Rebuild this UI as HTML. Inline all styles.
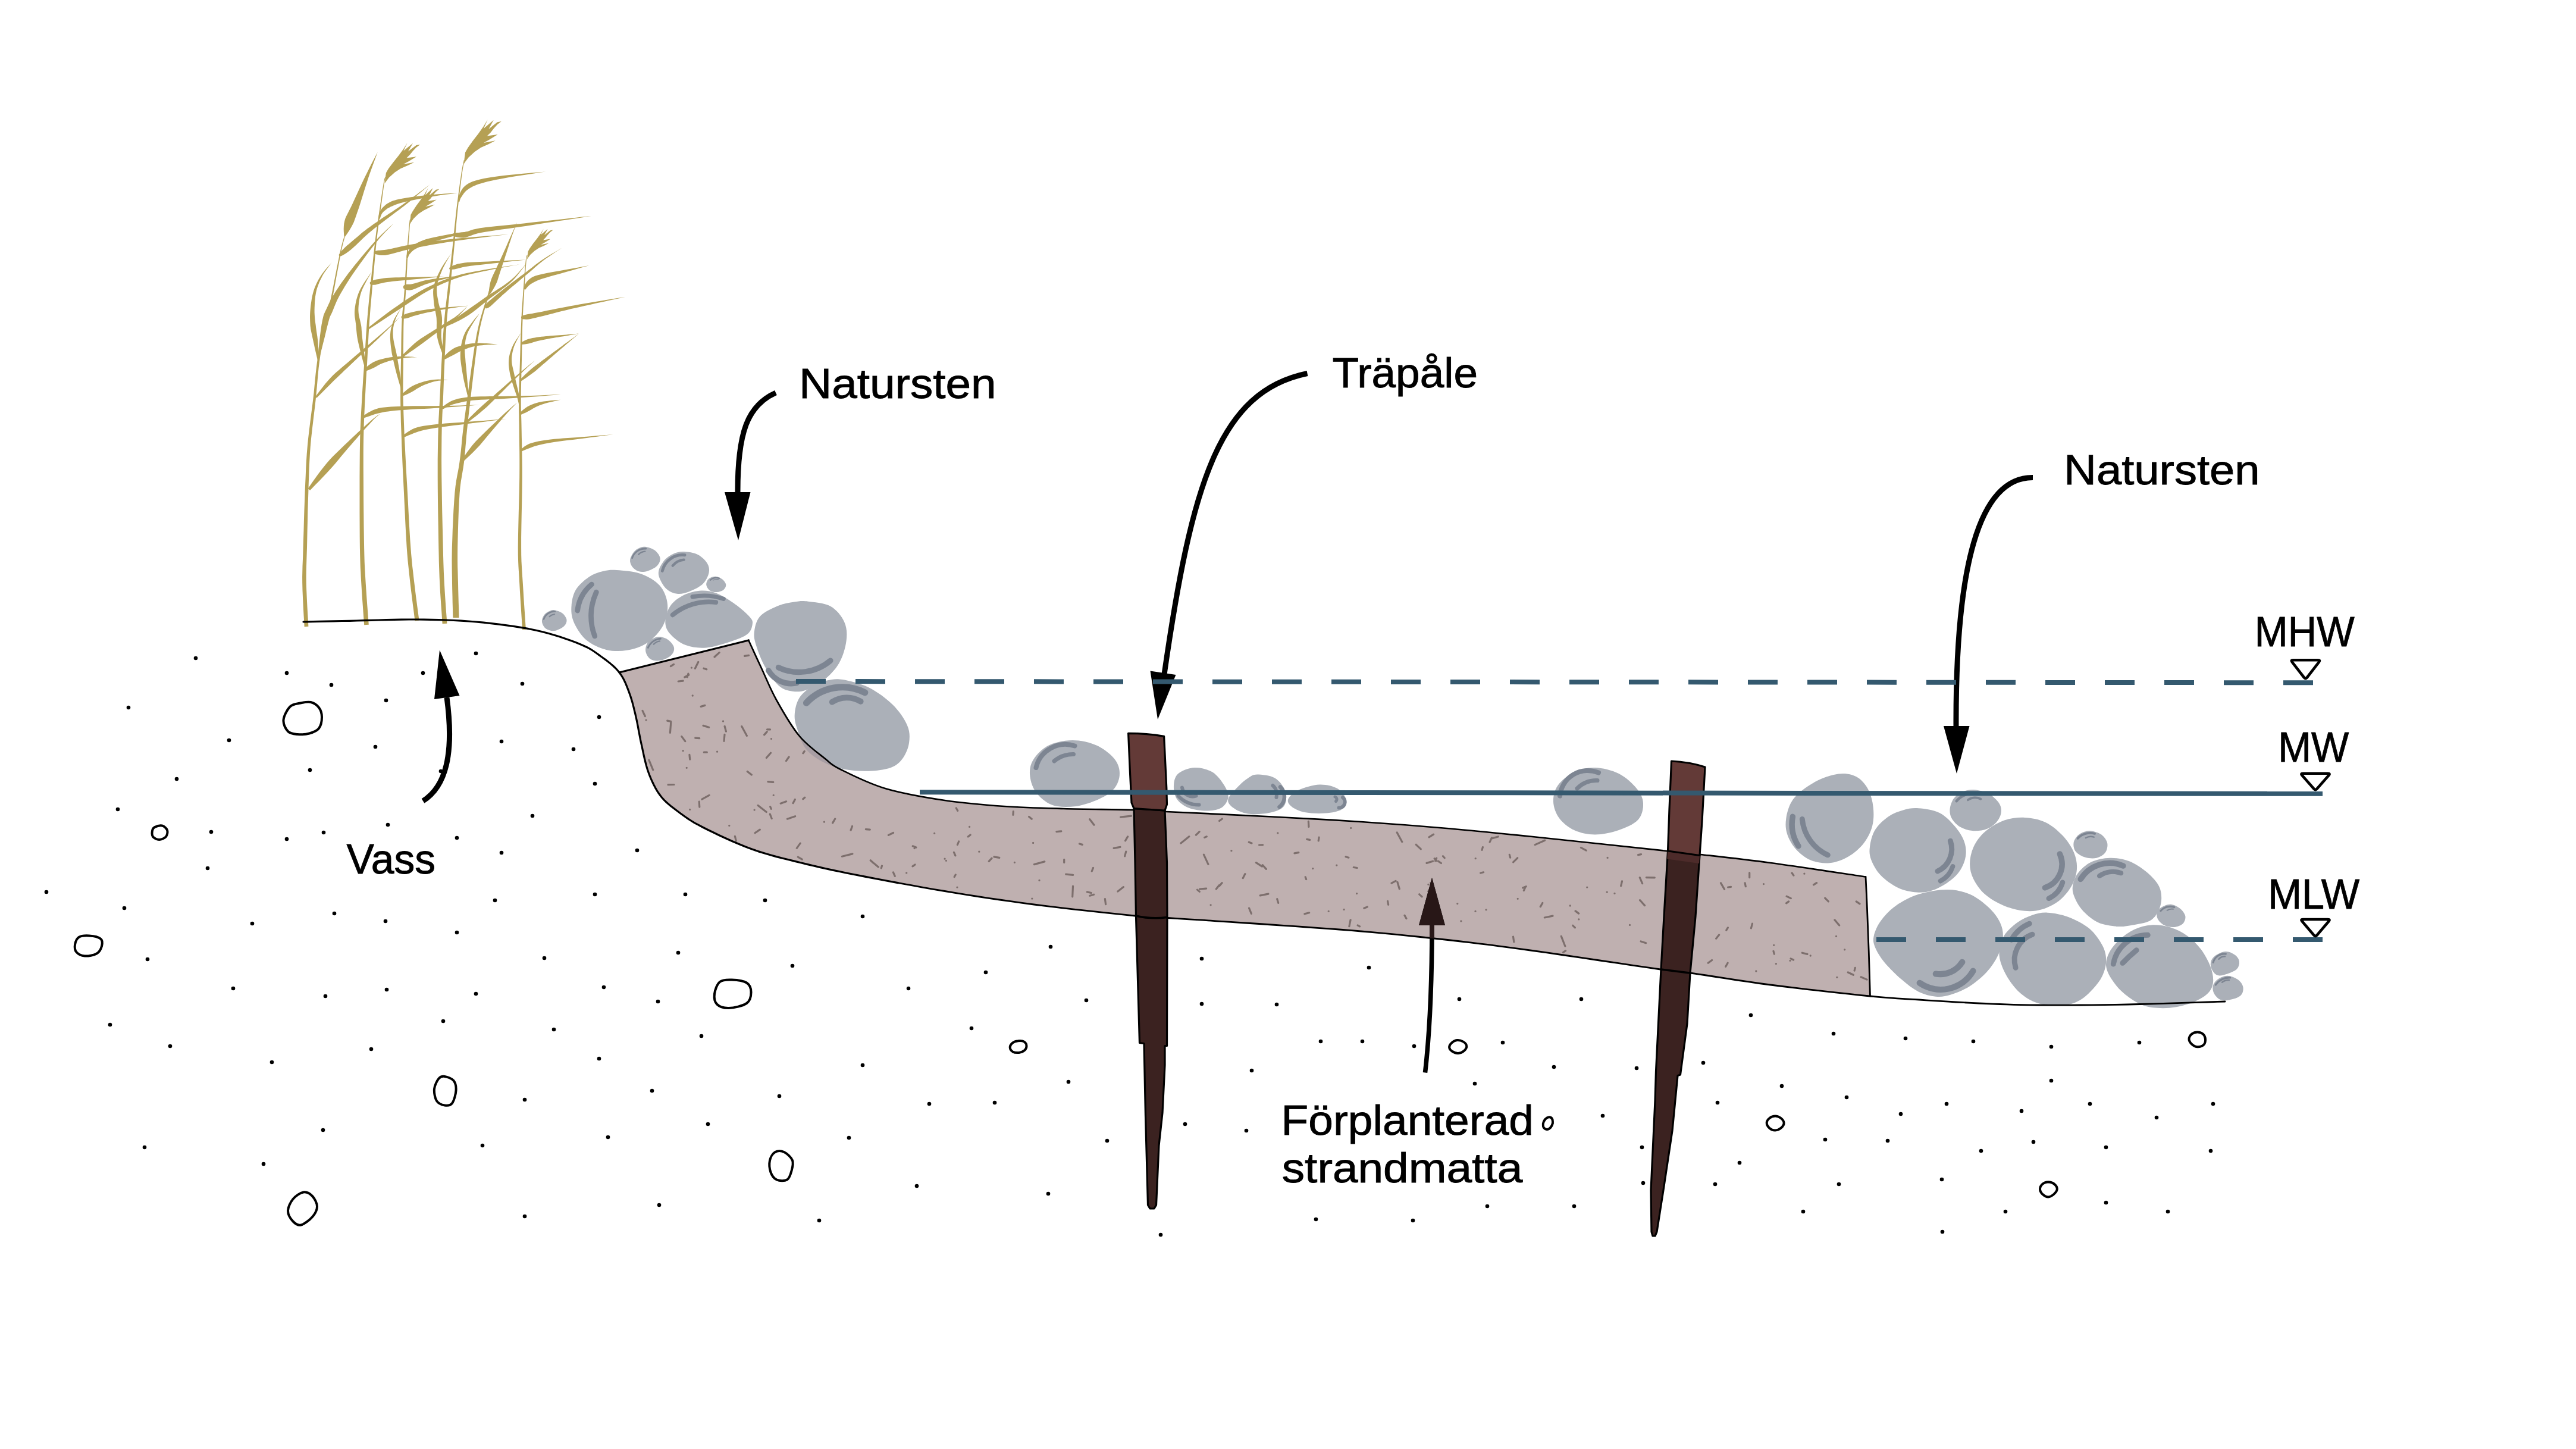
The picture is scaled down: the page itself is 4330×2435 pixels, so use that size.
<!DOCTYPE html><html><head><meta charset="utf-8"><title>Strandmatta</title>
<style>html,body{margin:0;padding:0;background:#fff;overflow:hidden}svg{display:block}text{font-family:"Liberation Sans",sans-serif;fill:#000;stroke:#000;stroke-width:0.9px}</style></head><body>
<svg width="4330" height="2435" viewBox="0 0 4330 2435">
<rect width="4330" height="2435" fill="#fff"/>
<g fill="#b5a054">
<path d="M518.4,1052.8L518,1044.7L517.3,1033.4L516.5,1020.1L515.8,1005.9L515.2,992.1L514.8,979.9L514.7,969.6L514.8,960.3L515,951.3L515.3,942L515.6,931.8L516,920.1L516.3,906.4L516.6,891.3L517,875.2L517.3,858.9L517.8,843L518.3,828.1L518.7,814.3L519.2,801.1L519.6,788.3L520.2,775.7L520.9,763.1L521.8,750.2L523,737L524.5,723.4L526.1,709.9L527.7,696.5L529.3,683.5L530.7,671.2L531.8,659.8L532.8,649L533.7,638.7L534.6,628.6L535.6,618.5L536.9,608.3L538.4,597.5L540.1,586.3L542,575.2L543.9,564.4L545.7,554.3L547.5,545.3L549.1,538.2L550.6,532.8L552.1,528.1L553.6,523.1L555.3,516.8L557.3,508.3L559.7,496.6L562.4,482.2L565.2,466.6L568.1,451.2L570.7,437.2L572.8,426.2L574.5,418.1L576,411.8L577.2,407.1L578.2,403.4L579,400.6L579.6,398.2L578.4,397.8L577.7,400.2L576.9,403.1L575.8,406.7L574.5,411.5L573,417.7L571.2,425.8L568.9,436.9L566.1,450.8L563.1,466.2L560.1,481.8L557.2,496.1L554.7,507.7L552.7,516.1L550.9,522.3L549.3,527.3L547.8,532L546.2,537.5L544.5,544.7L542.6,553.7L540.6,563.8L538.6,574.6L536.6,585.7L534.8,596.9L533.1,607.7L531.8,618.1L530.6,628.2L529.6,638.3L528.6,648.6L527.6,659.4L526.3,670.8L524.8,683L523.1,695.9L521.4,709.3L519.7,722.9L518.1,736.5L516.8,749.8L515.7,762.7L514.9,775.4L514.2,788.1L513.7,800.9L513.1,814.1L512.5,827.9L512,842.8L511.4,858.7L510.9,875L510.5,891.1L510,906.3L509.6,919.9L509.3,931.6L508.9,941.8L508.5,951.1L508.3,960.2L508.1,969.6L508.2,980.1L508.5,992.4L509.1,1006.2L509.8,1020.4L510.5,1033.8L511.2,1045.1L511.6,1053.2Z"/>
<path d="M619.8,1049.7L619.2,1042L618.4,1031.2L617.4,1018.5L616.4,1004.9L615.5,991.7L614.7,979.8L614.1,969.9L613.6,961.2L613.1,952.8L612.7,943.8L612.4,933.1L612.1,919.9L611.8,903.2L611.5,883.5L611.3,862.1L611.1,840.5L611,820L610.9,802L610.8,786.6L610.8,773L610.8,760.4L610.9,748.3L611.1,736.3L611.4,723.7L611.8,710.2L612.4,696.1L613,682L613.7,668.5L614.4,656L614.9,645.1L615.4,636.6L615.8,630.1L616.1,624.7L616.5,619.4L616.9,613.4L617.3,605.7L617.8,596.4L618.4,586L618.9,574.9L619.5,563.4L620.2,551.7L621,540.2L621.9,528.5L622.8,516.5L623.9,504.4L625,492.3L626,480.3L627.1,468.7L628.1,457.1L629.2,445.4L630.2,433.9L631.2,422.8L632.2,412.5L633.2,403.1L634.1,395.2L634.9,388.7L635.6,382.8L636.4,377.1L637.3,370.9L638.3,363.7L639.4,354.9L640.8,344.9L642.2,334.4L643.6,324.2L644.8,315.4L645.8,308.6L646.6,304.2L647.1,301.4L647.5,300L647.8,299.3L648.1,298.9L648.3,298.2L647.3,297.8L647.1,298.4L646.8,298.8L646.5,299.6L646,301.2L645.4,303.9L644.6,308.4L643.5,315.2L642.1,324L640.6,334.1L639.1,344.6L637.6,354.7L636.3,363.5L635.3,370.6L634.3,376.8L633.5,382.5L632.6,388.4L631.8,395L630.8,402.9L629.7,412.2L628.6,422.5L627.4,433.6L626.3,445.1L625.1,456.8L623.9,468.3L622.7,480L621.5,491.9L620.3,504.1L619.1,516.2L618,528.2L617,539.8L616.1,551.4L615.3,563.1L614.6,574.7L613.9,585.8L613.3,596.1L612.7,605.5L612.1,613.1L611.7,619.1L611.3,624.3L610.9,629.8L610.4,636.3L609.9,644.9L609.2,655.7L608.5,668.2L607.7,681.7L606.9,695.8L606.2,709.9L605.6,723.5L605.2,736.2L605,748.2L604.8,760.3L604.7,772.9L604.6,786.6L604.5,802L604.5,820.1L604.5,840.6L604.5,862.2L604.6,883.5L604.7,903.3L604.9,920.1L605.2,933.3L605.5,944.1L605.8,953.2L606.3,961.6L606.7,970.3L607.3,980.2L608,992.1L608.9,1005.5L609.9,1019L610.8,1031.8L611.6,1042.6L612.2,1050.3Z"/>
<path d="M704.5,1042.5L703.6,1035.7L702.3,1026.1L700.8,1014.8L699.2,1002.7L697.7,990.6L696.4,979.6L695.2,969.8L694.2,960.6L693.1,951.4L692.2,941.9L691.2,931.5L690.3,919.8L689.3,906.2L688.4,891.2L687.5,875.3L686.6,859.1L685.8,843.2L685,828.3L684.2,814.5L683.4,801.2L682.7,788.2L682,775.4L681.3,762.6L680.7,749.7L680,736.4L679.4,722.9L678.9,709.5L678.4,696.2L678,683.3L677.7,671L677.5,659.3L677.5,648.2L677.6,637.5L677.7,627L677.9,616.4L678,605.6L678,594.5L678,583L678.1,571.6L678.2,560.4L678.3,549.8L678.6,540.1L679,531.6L679.5,524.3L680.1,517.5L680.7,510.7L681.3,503.3L681.9,494.8L682.5,484.9L683.1,473.9L683.7,462.4L684.3,450.7L684.8,439.5L685.4,429.1L686.1,419.1L686.7,409L687.4,399.3L688.1,390.4L688.6,382.7L689.1,376.8L689.5,372.8L689.7,370.6L689.9,369.6L690,369.6L690.2,369.4L690.3,369L689.3,368.6L689.2,368.9L689.1,368.8L688.9,369.3L688.6,370.4L688.3,372.7L687.9,376.6L687.3,382.6L686.7,390.3L685.9,399.2L685.1,408.9L684.3,418.9L683.6,428.9L682.8,439.3L682.1,450.6L681.4,462.2L680.7,473.7L680,484.7L679.3,494.6L678.6,503.1L677.9,510.4L677.2,517.2L676.5,524L675.9,531.4L675.4,539.9L675,549.7L674.7,560.3L674.5,571.5L674.4,583L674.2,594.4L674,605.6L673.8,616.3L673.6,626.9L673.4,637.4L673.2,648.2L673.1,659.3L673.1,671L673.3,683.4L673.6,696.3L673.9,709.7L674.4,723.1L674.9,736.6L675.3,749.9L675.9,762.9L676.4,775.7L677,788.5L677.7,801.5L678.3,814.8L679,828.7L679.7,843.5L680.5,859.4L681.2,875.6L682,891.5L682.9,906.6L683.7,920.2L684.6,932.1L685.5,942.5L686.5,952.1L687.5,961.3L688.5,970.6L689.6,980.4L690.9,991.5L692.4,1003.5L693.9,1015.7L695.4,1027L696.6,1036.6L697.5,1043.5Z"/>
<path d="M751.4,1047.7L750.9,1040.2L750.1,1029.8L749.2,1017.5L748.3,1004.3L747.5,991.4L746.8,979.8L746.3,970L745.9,961.4L745.6,953L745.3,943.9L745,933.2L744.7,919.9L744.3,903.2L743.8,883.4L743.3,862.1L742.9,840.5L742.6,820L742.3,802L742.2,786.3L742.1,772L742.2,758.7L742.3,746.4L742.4,734.8L742.6,723.7L742.8,713.6L743.2,704.8L743.5,696.6L743.9,688.7L744.4,680.4L744.8,671.1L745.2,661L745.6,650.3L746,639.2L746.4,628L746.9,616.8L747.4,605.7L747.9,594.7L748.4,583.6L748.9,572.5L749.5,561.5L750.2,550.7L750.9,540.2L751.8,530.1L752.7,520.5L753.7,511L754.7,501.6L755.8,491.9L756.8,481.8L757.9,471.3L759,460.4L760.1,449.4L761.2,438.3L762.4,427.2L763.4,416.1L764.5,405.2L765.5,394.1L766.5,383.1L767.4,372.1L768.5,361.2L769.6,350.6L770.8,339.8L772.1,328.6L773.4,317.6L774.7,307.2L775.9,297.8L777,290.1L777.9,284.1L778.7,279.4L779.4,275.8L780,273.1L780.5,271L780.8,269.1L779.8,268.9L779.4,270.7L778.8,272.9L778.2,275.6L777.5,279.2L776.6,283.9L775.6,289.9L774.5,297.6L773.1,306.9L771.7,317.4L770.2,328.4L768.8,339.6L767.4,350.4L766.2,361L765.1,371.8L763.9,382.8L762.8,393.8L761.7,404.9L760.6,415.9L759.3,426.9L758.1,438L756.8,449.1L755.6,460.1L754.4,470.9L753.2,481.4L752,491.5L750.9,501.1L749.7,510.6L748.6,520.1L747.6,529.7L746.7,539.8L745.8,550.4L745,561.2L744.3,572.2L743.7,583.4L743.1,594.5L742.4,605.5L741.8,616.5L741.3,627.8L740.7,639L740.2,650L739.7,660.7L739.2,670.9L738.7,680.1L738.2,688.4L737.8,696.3L737.3,704.5L736.9,713.4L736.6,723.5L736.3,734.7L736.1,746.3L735.9,758.7L735.7,772L735.7,786.3L735.7,802L735.8,820.1L736,840.6L736.3,862.2L736.7,883.6L737,903.3L737.3,920.1L737.6,933.4L737.8,944.1L738.1,953.2L738.4,961.7L738.7,970.4L739.2,980.2L739.8,991.9L740.6,1004.8L741.5,1018L742.4,1030.3L743.1,1040.8L743.6,1048.3Z"/>
<path d="M771.6,1037.9L771.4,1031.6L771.2,1022.9L770.8,1012.6L770.5,1001.5L770.2,990.3L770,979.9L769.7,970.4L769.5,961.2L769.2,952L769.1,942.4L769.1,931.9L769.2,920.1L769.5,906.3L769.9,890.5L770.4,874L771,857.5L771.8,842.1L772.6,828.8L773.6,818L774.8,808.7L776.2,800.5L777.5,792.7L778.8,784.9L780,776.5L780.9,767.7L781.8,758.9L782.5,750.1L783.3,741.4L784,732.7L784.9,724L785.8,715.2L786.7,706.4L787.7,697.7L788.7,688.9L789.8,680.1L790.8,671.3L791.8,662.5L792.8,653.6L793.9,644.7L794.9,635.9L795.9,627.3L797,619L797.9,611L798.9,603.1L799.9,595.5L800.8,588.1L801.8,581L802.8,574.3L803.8,568.1L804.7,562.6L805.6,557.3L806.6,552.1L807.8,546.5L809.2,540.4L811.1,533.1L813.3,524.8L815.8,516.2L818.1,507.9L820.3,500.6L821.9,495L823,491.2L823.7,488.7L824.1,487.3L824.4,486.5L824.6,485.9L824.8,485.2L823.2,484.8L823,485.4L822.8,485.9L822.5,486.8L822.1,488.2L821.3,490.7L820.1,494.4L818.4,500L816.1,507.3L813.5,515.5L810.9,524.1L808.4,532.3L806.4,539.6L804.8,545.9L803.5,551.4L802.4,556.7L801.3,562L800.3,567.6L799.2,573.7L798.1,580.5L796.9,587.5L795.8,594.9L794.7,602.6L793.6,610.4L792.4,618.4L791.3,626.7L790.1,635.2L788.8,644L787.6,652.9L786.4,661.8L785.2,670.7L784,679.4L782.9,688.2L781.7,696.9L780.5,705.7L779.4,714.5L778.3,723.2L777.3,732L776.4,740.8L775.6,749.5L774.7,758.2L773.7,766.9L772.6,775.5L771.4,783.7L770,791.4L768.5,799.1L767,807.5L765.6,817L764.4,828.2L763.4,841.6L762.4,857.1L761.6,873.6L760.8,890.2L760.3,906L759.8,919.9L759.6,931.8L759.5,942.4L759.6,952.2L759.7,961.4L759.9,970.6L760,980.1L760.2,990.6L760.5,1001.8L760.7,1012.9L761,1023.2L761.2,1031.9L761.4,1038.1Z"/>
<path d="M883.9,1057.8L883.3,1049.1L882.5,1036.9L881.5,1022.6L880.5,1007.4L879.6,992.7L878.8,979.8L878.1,969.5L877.5,960.6L877,952.3L876.5,943.5L876.2,933.1L876.1,920L876.1,903.3L876.4,883.5L876.8,862.2L877.3,840.6L877.6,820.1L877.8,802L877.8,786.3L877.6,772L877.4,758.7L877.2,746.3L876.9,734.7L876.7,723.6L876.5,713.5L876.3,704.6L876,696.4L875.8,688.5L875.7,680.2L875.7,671L875.7,660.9L875.9,650.2L876.2,639.2L876.4,627.9L876.7,616.7L877,605.6L877.2,594.5L877.4,583L877.6,571.6L877.9,560.4L878.1,549.8L878.4,540L878.8,531.4L879.2,523.7L879.5,516.6L880,509.7L880.4,502.5L880.9,494.8L881.4,485.9L882.1,476.3L882.7,466.4L883.3,457L883.9,448.6L884.4,442.1L884.9,437.5L885.3,434.3L885.7,432.3L886,431.1L886.3,430.1L886.5,429.1L885.5,428.9L885.2,429.8L884.9,430.7L884.6,432.1L884.2,434.2L883.7,437.3L883.2,441.9L882.6,448.5L881.9,456.8L881.2,466.3L880.4,476.2L879.7,485.8L879.1,494.6L878.5,502.4L878,509.5L877.5,516.5L877,523.6L876.6,531.3L876.2,540L875.8,549.7L875.4,560.3L875,571.5L874.7,583L874.4,594.4L874,605.6L873.7,616.6L873.3,627.8L872.9,639.1L872.6,650.1L872.3,660.8L872.1,671L872.1,680.2L872.1,688.6L872.3,696.5L872.4,704.7L872.6,713.5L872.7,723.6L872.8,734.7L873,746.4L873.2,758.7L873.3,772L873.3,786.3L873.2,802L872.9,820L872.4,840.5L871.8,862.1L871.3,883.4L870.9,903.2L870.7,920L870.8,933.2L871.1,943.7L871.5,952.7L872,961L872.6,969.8L873.2,980.2L873.9,993L874.8,1007.7L875.8,1022.9L876.7,1037.3L877.5,1049.5L878.1,1058.2Z"/>
<path d="M779.7,275.6L780.7,265.9L782,256.3L786.2,248.7L794.5,237L804.2,224.5L812.5,212.8L819.7,201L813,215.9L829.7,201.7L821.4,216.9L829,210.7L836,205.2L842.8,204L836,209.3L829.7,216.2L824.9,222.4L818.7,228.6L836.6,226L822,234.9L813,240L832.8,236.2L820.7,242.4L808.3,248L798,254.9L787.6,264.5L782,272Z"/>
<path d="M646.5,308.5L647.6,299.5L648.9,290.6L652.9,283.6L660.8,272.9L670,261.4L677.9,250.7L684.7,239.9L678.3,253.6L694,240.7L686,254.6L693.2,249L699.8,244L706.1,243L699.7,247.8L693.8,254.1L689.2,259.8L683.4,265.5L700,263.3L686.3,271.4L677.9,276L696.3,272.7L685,278.3L673.4,283.3L663.8,289.6L654,298.3L648.7,305.2Z"/>
<path d="M689,376.7L689.6,368.9L690.4,361.1L693.7,354.9L700.1,345.3L707.7,335L714.1,325.4L719.7,315.7L714.6,327.9L727.7,316.1L721.4,328.5L727.4,323.4L732.9,318.8L738.3,317.7L733,322.1L728,327.8L724.3,332.9L719.4,338L733.8,335.5L722.2,343L715.1,347.3L731,343.8L721.3,349.1L711.5,353.9L703.3,359.6L695.1,367.6L690.8,373.8Z"/>
<path d="M886,435.7L886.7,429L887.6,422.4L890.5,417.2L896.3,409.1L903,400.5L908.8,392.4L913.8,384.3L909.1,394.6L920.7,384.8L914.9,395.3L920.2,391L925,387.3L929.7,386.4L925,390.1L920.6,394.8L917.3,399.1L913,403.4L925.4,401.6L915.3,407.7L909.1,411.2L922.7,408.6L914.4,412.9L905.8,416.7L898.7,421.5L891.5,428.1L887.6,433.2Z"/>
<path d="M579.9,397.9L581.2,396L583,393.5L585,390.5L587.2,387.2L589.4,383.6L591.4,380.1L593.2,376.6L594.8,373.2L596.1,369.6L597.4,365.9L598.8,361.9L600.3,357.6L602,352.8L603.8,347.5L605.7,341.5L607.8,334.8L610,327.8L612.2,320.4L614.6,313.1L616.9,305.9L619.1,299.1L621.4,292.3L624,285.1L626.6,277.8L629.1,270.9L631.4,264.7L633.3,259.4L634.7,255.5L634.7,255.5L632.8,259.2L630.2,264.2L627.2,270.1L623.8,276.6L620.3,283.5L616.9,290.4L613.6,296.9L610.5,303.4L607.3,310.3L604.1,317.3L600.9,324.3L597.8,331L594.9,337.3L592.3,342.9L589.9,347.9L587.7,352.3L585.7,356.3L583.8,360.1L581.9,363.8L580.3,367.6L579.2,371.5L578.3,375.8L577.9,380.1L577.7,384.4L577.8,388.5L578,392.1L578.2,395.1L578.4,397.4Z"/>
<path d="M571.2,430.9L571.5,430.8L571.6,430.8L571.7,430.8L572.1,430.7L572.8,430.5L573.9,430.1L575.6,429.3L577.7,428.1L580.4,426.5L583.3,424.6L586.4,422.3L589.6,419.8L592.8,417.1L595.8,414.3L598.9,411.4L602.1,408.3L605.3,405.2L608.6,402L612,398.8L615.3,395.7L618.7,392.7L622.2,389.8L625.6,386.9L629.2,384.1L632.8,381.3L636.5,378.4L640.3,375.5L644.3,372.4L648.4,369.2L652.9,365.9L657.5,362.5L662.1,359L666.7,355.6L671,352.4L675.1,349.3L678.8,346.4L682.2,343.7L685.4,341.2L688.6,338.7L691.7,336.1L694.9,333.5L698.2,330.7L702,327.6L706.1,324.1L710.4,320.5L714.6,317L718.4,313.7L721.5,311L723.9,309L723.9,309L721.4,310.9L718.1,313.4L714.1,316.4L709.8,319.7L705.3,323.1L701,326.4L697.1,329.3L693.6,331.8L690.2,334.3L687,336.6L683.7,338.9L680.4,341.3L676.9,343.8L673,346.4L668.8,349.3L664.3,352.3L659.6,355.4L654.8,358.6L650,361.7L645.3,364.8L640.9,367.8L636.8,370.7L632.8,373.4L628.9,376.1L625.1,378.7L621.4,381.4L617.7,384.1L614,386.9L610.3,389.8L606.6,392.8L603.1,395.9L599.5,398.9L596.1,401.8L592.9,404.6L589.7,407.3L586.6,409.9L583.4,412.5L580.4,415.2L577.7,417.9L575.2,420.5L573.2,422.8L571.7,424.7L570.7,426.3L570.1,427.3L569.8,427.9L569.6,428.3L569.6,428.4L569.5,428.6L569.4,428.8Z"/>
<path d="M638.5,367.8L638.9,366.7L639.4,365.3L639.9,363.6L640.6,361.8L641.4,360L642.3,358.5L643.4,357.1L644.6,355.8L646,354.5L647.6,353.2L649.2,351.9L651,350.6L652.9,349.5L654.9,348.4L657,347.3L659.1,346.4L661.3,345.4L663.6,344.5L666.2,343.5L669.1,342.5L672.3,341.5L675.9,340.5L679.9,339.4L684.2,338.4L688.7,337.4L693.4,336.4L698.3,335.4L703.3,334.4L708.5,333.4L714.2,332.4L720,331.4L725.9,330.4L731.7,329.5L737.2,328.6L742.4,327.8L747.2,327.1L752.1,326.5L756.9,325.9L761.3,325.4L765.3,324.9L768.6,324.5L771.1,324.2L771.1,324.2L768.6,324.4L765.2,324.5L761.3,324.7L756.8,324.9L752,325.2L747.1,325.5L742.1,325.9L737,326.3L731.4,326.8L725.5,327.3L719.5,327.9L713.6,328.5L707.9,329.1L702.5,329.8L697.5,330.4L692.5,331.1L687.7,331.7L683,332.5L678.6,333.2L674.4,334L670.6,334.8L667.1,335.6L663.9,336.5L661,337.3L658.3,338.3L655.9,339.5L653.5,340.7L651.2,342.1L649,343.6L647,345.2L645.1,346.9L643.3,348.7L641.8,350.5L640.4,352.4L639.2,354.3L638.2,356.4L637.5,358.6L637,360.8L636.7,362.8L636.5,364.6L636.4,366.1L636.2,367.2Z"/>
<path d="M536.5,608.6L536.3,605.3L536.1,600.9L535.8,595.6L535.5,589.8L535.1,584L534.7,578.4L534.3,573.5L533.8,569.2L533.3,565.1L532.7,561.2L532.1,557.5L531.6,553.8L531.1,550.3L530.7,546.6L530.2,543L529.7,539.4L529.3,535.9L529,532.3L528.8,528.7L528.6,525L528.6,521.1L528.7,516.9L528.9,512.4L529.1,507.8L529.5,503.2L530,498.6L530.7,494.2L531.5,490L532.5,486L533.7,482.2L535.1,478.4L536.6,474.6L538.2,471L540,467.4L541.8,463.8L544,460.1L546.5,456.2L549.2,452.4L552,448.7L554.5,445.3L556.6,442.5L558.1,440.4L558.1,440.4L556.5,442.4L554.1,445L551.3,448.2L548.3,451.6L545.2,455.3L542.4,459L539.9,462.6L537.7,466.1L535.6,469.6L533.6,473.3L531.8,477L530.1,480.8L528.5,484.7L527.1,488.9L525.9,493.2L524.8,497.8L523.9,502.5L523.2,507.2L522.5,511.9L522,516.4L521.6,520.7L521.3,524.8L521.1,528.8L521,532.6L521.1,536.4L521.2,540.1L521.4,543.8L521.6,547.6L522.1,551.5L522.7,555.3L523.5,559L524.3,562.7L525.1,566.6L526,570.5L526.9,574.7L528,579.4L529.1,584.9L530.4,590.6L531.7,596.2L532.9,601.3L533.9,605.7L534.7,608.8Z"/>
<path d="M537.6,598.3L539.1,592.8L541.1,585L543.4,575.8L545.9,565.9L548.2,556.3L550.3,547.7L552,541.2L553.2,536.7L554.2,533.6L555,531.5L555.7,529.9L556.6,528.2L557.7,526.1L559,523.1L560.3,519.8L561.6,516.4L563,513L564.5,509.4L566.2,505.6L568.2,501.5L570.5,497L573.2,492.2L576.3,487L579.5,481.5L583.1,475.8L586.9,469.8L591,463.6L595.3,457.2L600.1,450.4L605.4,442.9L611.1,435.2L616.9,427.3L622.6,419.8L628,412.7L633.1,406.4L637.9,400.6L642.7,395.2L647.5,390.1L651.9,385.5L655.9,381.4L659.2,378L661.7,375.4L661.7,375.4L659.1,377.8L655.5,381L651.3,384.8L646.6,389.2L641.5,394L636.3,399.2L631.1,404.7L625.7,410.7L619.8,417.5L613.6,424.8L607.3,432.2L601.2,439.7L595.4,446.8L590.2,453.5L585.4,459.6L580.9,465.7L576.7,471.5L572.7,477.1L569.1,482.4L565.7,487.5L562.6,492.4L559.8,496.9L557.4,501.1L555.3,505.1L553.5,508.8L551.9,512.2L550.4,515.6L548.9,518.7L547.7,521.3L546.7,523.3L545.8,525.2L544.8,527.5L543.8,530.3L542.9,533.9L541.8,538.8L540.5,545.8L539.2,554.6L537.9,564.4L536.8,574.6L535.8,584L535,592L534.4,597.7Z"/>
<path d="M622.1,477.5L622.3,477.6L622.3,477.6L622.3,477.7L622.6,477.8L623.2,478.2L624.4,478.5L626.2,478.8L628.7,478.8L631.7,478.4L634.9,477.6L638.5,476.6L642.4,475.7L646.5,474.8L650.9,474L655.5,473.4L660.3,472.8L665.5,472.3L671,471.8L676.9,471.2L683.2,470.7L689.9,470L697.7,469.3L706.7,468.4L716.3,467.5L725.9,466.6L734.7,465.7L742.1,465L747.5,464.5L747.5,464.5L742.1,464.7L734.6,464.8L725.8,465L716.2,465.2L706.5,465.4L697.5,465.7L689.7,465.9L683,466L676.7,466.1L670.7,466.2L665.2,466.3L659.9,466.5L654.8,466.7L650,467.1L645.4,467.6L641,468.2L636.8,468.9L633.1,469.6L629.7,470.3L627,471.2L624.8,472.3L623.3,473.2L622.4,474L621.9,474.6L621.8,474.8L621.7,474.9L621.7,474.9L621.6,475.1Z"/>
<path d="M628.6,425.8L628.9,426L629.1,426.1L629.4,426.3L629.8,426.5L630.4,426.7L631.4,427L632.6,427.4L634.1,427.8L635.9,428.2L638,428.7L640.6,429L643.6,429.1L647.2,428.9L651.2,428.2L655.7,427.3L660.7,426L666.1,424.5L671.9,422.9L677.9,421.3L684.1,419.7L690.5,418.2L697.2,416.8L704.4,415.3L711.9,413.9L719.5,412.5L727.3,411.1L735,409.7L742.6,408.5L750,407.3L757.3,406.2L764.5,405.1L771.9,404.1L779.3,403.1L786.9,402.1L794.8,401L803.5,399.9L813.2,398.7L823.2,397.5L833,396.3L842,395.3L849.5,394.4L855,393.7L855,393.7L849.5,394.2L841.9,394.7L832.9,395.4L823.1,396.2L813,396.9L803.3,397.7L794.5,398.5L786.6,399.2L778.9,399.8L771.5,400.5L764.1,401.2L756.7,402L749.4,402.8L741.9,403.7L734.3,404.6L726.5,405.6L718.6,406.7L710.8,407.8L703.3,408.9L696,410.1L689.1,411.2L682.5,412.5L676.1,413.8L669.9,415.2L664.1,416.6L658.8,417.8L653.9,418.8L649.7,419.5L646.2,419.9L643.2,420.3L640.6,420.5L638.3,420.7L636.3,420.8L634.4,421.1L632.6,421.4L631.2,421.9L630.3,422.2L629.7,422.5L629.3,422.8L629,422.9L628.8,423.1L628.5,423.3Z"/>
<path d="M685.8,433.4L686,432.6L686.3,431.7L686.6,430.7L687,429.6L687.5,428.5L688.1,427.5L689,426.4L690.1,425.2L691.2,423.9L692.5,422.6L693.9,421.4L695.5,420.1L697.4,418.9L699.5,417.7L702,416.5L704.7,415.3L707.6,414.1L710.7,412.8L714.3,411.5L718.1,410L722.4,408.4L727.3,406.8L732.7,405L738.6,403.3L744.7,401.5L751.1,399.8L757.4,398.1L763.6,396.4L770.2,394.8L777.3,393.2L784.7,391.6L791.8,390L798.3,388.7L803.8,387.5L807.8,386.6L807.8,386.6L803.7,387.2L798.2,387.8L791.6,388.6L784.3,389.5L776.8,390.5L769.5,391.5L762.8,392.6L756.4,393.6L749.9,394.8L743.4,396L737.1,397.2L731,398.5L725.3,399.8L720.1,401L715.5,402.3L711.3,403.7L707.6,405.2L704.2,406.7L701.2,408.3L698.4,410L695.8,411.7L693.4,413.5L691.4,415.4L689.7,417.2L688.3,419.1L687.2,420.8L686.2,422.4L685.3,424L684.6,425.6L684,427.2L683.7,428.7L683.5,430.1L683.5,431.2L683.4,432.1L683.3,432.8Z"/>
<path d="M760.5,395.8L760.7,396L761,396.1L761.3,396.3L761.7,396.5L762.3,396.7L763.2,397.1L764.5,397.4L766,397.9L767.9,398.4L770.2,398.9L772.8,399.3L775.8,399.5L779,399.4L782.3,398.9L785.6,398.1L788.7,397.1L791.6,396L794.7,394.8L798.3,393.5L802.8,392.3L808.5,391L815.6,389.7L824.1,388.4L833.6,387L843.6,385.6L853.8,384.2L864,382.7L873.7,381.3L883.1,379.9L892.5,378.5L902,377L911.4,375.6L920.8,374.1L930,372.7L939.1,371.3L948.5,369.9L958.4,368.4L968.4,366.9L977.9,365.5L986.6,364.2L993.8,363.1L999.2,362.3L999.2,362.3L993.8,362.9L986.5,363.7L977.8,364.6L968.2,365.7L958.2,366.8L948.2,367.9L938.8,368.9L929.6,369.9L920.4,371L911,372L901.5,373.1L892,374.1L882.5,375.2L873,376.2L863.3,377.3L853.1,378.3L842.8,379.3L832.7,380.3L823.2,381.3L814.6,382.3L807.1,383.3L801,384.4L796,385.6L792,386.8L788.6,387.9L785.8,388.9L783.3,389.6L780.8,390.1L778.1,390.4L775.6,390.6L773.1,390.8L770.7,390.9L768.5,391.1L766.4,391.3L764.6,391.6L763.2,392L762.3,392.3L761.7,392.6L761.3,392.8L761,392.9L760.7,393.1L760.5,393.2Z"/>
<path d="M772.3,338.9L772.5,338.2L772.7,337.3L772.9,336.4L773.3,335.4L773.7,334.3L774.3,333.1L775.1,331.7L776.2,330.1L777.4,328.2L778.7,326.3L780.2,324.3L781.7,322.4L783.4,320.7L785.3,319.2L787.4,317.8L789.6,316.3L791.9,315L794.4,313.6L797.4,312.2L800.8,310.8L804.9,309.3L809.5,307.9L814.5,306.5L820,305.1L826,303.7L832.6,302.3L839.7,300.9L847.5,299.4L856.7,297.8L867.6,296L879.4,294.2L891.2,292.4L902.1,290.7L911.3,289.3L917.9,288.3L917.9,288.3L911.3,288.9L902,289.7L891,290.7L879.1,291.7L867.2,292.9L856.2,294L846.8,295L838.9,296L831.7,297L825,298L818.8,299L813.1,300.1L807.8,301.2L802.8,302.4L798.4,303.7L794.5,305L791,306.4L788,308L785.2,309.7L782.8,311.5L780.5,313.5L778.3,315.8L776.4,318.4L774.9,320.9L773.7,323.4L772.7,325.8L771.9,328L771.2,329.8L770.6,331.6L770.2,333.2L770,334.7L769.9,335.9L769.9,337L769.9,337.8L769.9,338.4Z"/>
<path d="M755.5,452.5L755.6,452.5L755.6,452.5L755.7,452.5L755.9,452.6L756.4,452.8L757.4,452.9L759.1,453L761.4,452.8L764.1,452.4L767.2,451.8L770.5,451L774.1,450L777.9,449L782.1,448.2L786.5,447.4L791.2,446.8L796.2,446.2L801.7,445.6L807.6,445L814,444.3L821.1,443.5L829.5,442.6L839.4,441.5L850.2,440.3L860.9,439.1L870.8,438L879.2,437.1L885.2,436.5L885.2,436.5L879.1,436.7L870.7,437.1L860.8,437.6L850,438L839.2,438.5L829.2,439L820.7,439.4L813.7,439.7L807.2,440L801.3,440.2L795.8,440.4L790.6,440.7L785.7,441.1L781.1,441.5L776.6,442.2L772.4,443L768.5,443.8L765.1,444.9L762.2,446.1L759.8,447.2L757.9,448.3L756.5,449.1L755.7,449.7L755.2,450.1L755.1,450.3L755.1,450.3L755.1,450.3L755,450.4Z"/>
<path d="M678,483.9L678.3,484.4L678.8,484.9L679.3,485.3L680,485.7L680.7,486.1L681.6,486.5L682.4,486.8L683.1,487L683.9,487.3L685.1,487.6L686.8,487.8L688.7,487.7L691,487.3L693.5,486.7L696.4,485.7L699.5,484.5L702.8,483.1L706.3,481.5L709.9,480L713.4,478.6L716.9,477.3L720.4,476.2L723.9,475.1L727.6,474L731.3,473L735.1,472L738.8,471L742.5,470L746.5,469L750.7,468L755,466.9L759.2,465.9L762.9,465.1L766.1,464.3L768.5,463.7L768.5,463.7L766.1,464L762.8,464.4L759,464.8L754.7,465.3L750.3,465.8L746,466.4L741.9,466.9L738.1,467.4L734.3,467.9L730.4,468.5L726.5,469.1L722.7,469.7L718.9,470.4L715.1,471.1L711.3,472L707.5,473.1L703.7,474.2L700,475.2L696.7,476.2L693.7,477L691.3,477.5L689.5,477.7L688.1,477.8L687,477.7L686.1,477.7L685.1,477.7L683.8,477.8L682.5,478L681.4,478.3L680.5,478.7L679.8,479.1L679.2,479.6L678.7,480L678.2,480.5L677.9,481.1Z"/>
<path d="M747.1,597.4L746.6,594.5L745.8,590.6L744.8,585.9L743.8,580.8L742.9,575.6L742.2,570.5L741.7,565.8L741.7,561.4L741.9,556.9L742.2,552.3L742.6,547.6L742.9,542.9L743.1,538.2L742.9,533.6L742.4,529.2L741.6,525.2L740.6,521.3L739.5,517.7L738.5,514.2L737.6,510.8L736.8,507.2L736.2,503.6L735.5,499.9L734.9,496.4L734.4,492.8L734.2,489.3L734.1,485.7L734.4,482L735,478.2L735.9,474.1L737.1,470L738.5,465.8L740.1,461.5L741.7,457.4L743.4,453.3L745.3,449.2L747.6,444.7L750,440.3L752.5,436L754.7,432.2L756.6,428.9L758,426.5L758,426.5L756.4,428.8L754.2,431.9L751.7,435.5L748.9,439.6L746,443.8L743.4,448.1L741,452.1L739,456.1L736.9,460.2L735,464.3L733.2,468.5L731.5,472.8L730.2,477L729.1,481.1L728.5,485.2L728.1,489.3L728.1,493.2L728.3,497L728.6,500.8L728.9,504.6L729.3,508.4L729.7,512.2L730.4,516L731.1,519.8L731.9,523.4L732.5,527L733.2,530.7L733.7,534.4L733.9,538.4L734,542.7L733.9,547.2L733.9,552L733.9,556.9L734.2,561.8L734.9,566.6L736,571.6L737.4,576.8L739.1,582L740.9,587L742.5,591.5L743.9,595.2L744.9,598Z"/>
<path d="M614.8,615.8L614.3,611.5L613.6,605.6L612.8,598.5L611.8,590.9L610.9,583.4L610,576.5L609.3,570.8L608.8,566.4L608.4,562.6L608.1,559.3L607.9,556.3L607.7,553.3L607.5,550.1L607,546.6L606.2,542.9L605.4,539.2L604.5,535.6L603.7,532L603,528.5L602.6,524.8L602.4,521L602.5,517L602.8,512.7L603.3,508.4L603.9,503.9L604.8,499.3L606,494.7L607.5,490.1L609.5,485.1L612.2,479.5L615.2,473.7L618.3,468L621.3,462.9L623.8,458.5L625.5,455.4L625.5,455.4L623.5,458.4L620.7,462.5L617.3,467.4L613.6,472.8L610.1,478.3L606.9,483.8L604.3,488.8L602.3,493.5L600.7,498.2L599.3,502.9L598.2,507.5L597.4,512L596.7,516.5L596.2,520.8L596,525.1L596.1,529.2L596.5,533.2L597.1,537L597.6,540.7L598.1,544.2L598.5,547.7L598.7,551L599,554L599.3,557L599.6,560.1L600,563.6L600.6,567.5L601.4,572.1L602.7,577.8L604.3,584.6L606.1,592L608.1,599.4L609.9,606.3L611.5,612.1L612.6,616.2Z"/>
<path d="M676.3,655.2L675.7,650.5L674.7,644.1L673.6,636.5L672.3,628.2L671,619.8L669.6,611.9L668.4,604.9L667.3,598.5L666.1,592.4L664.7,586.6L663.4,581.1L662.3,575.8L661.4,570.8L660.8,566.1L660.5,561.8L660.5,557.8L660.7,554.1L661.1,550.6L661.7,547.2L662.5,543.8L663.4,540.4L664.6,536.9L666.1,533.2L667.9,529.5L669.8,526.1L671.5,522.9L673,520.3L674.1,518.3L674.1,518.3L672.8,520.2L671.1,522.6L669,525.6L666.8,528.9L664.7,532.5L662.7,536.1L661.1,539.6L659.9,543L658.8,546.4L657.8,549.9L657,553.6L656.4,557.5L656,561.7L655.8,566.3L656,571.3L656.4,576.6L657,582.2L657.8,587.9L658.7,593.9L660,600L661.3,606.3L662.9,613.2L664.8,621.1L667,629.4L669.3,637.4L671.4,644.8L673.2,651.1L674.5,655.6Z"/>
<path d="M788.3,665.8L788,662.7L787.5,658.6L787,653.7L786.4,648.2L785.8,642.5L785.3,636.8L784.8,631.3L784.3,625.9L783.8,620.1L783.2,614.3L782.6,608.4L782.2,602.7L781.7,597.4L781.3,592.5L781.2,587.9L781.3,583.5L781.5,579.4L782,575.4L782.5,571.6L783.3,567.9L784.2,564.3L785.4,560.9L786.8,557.6L788.4,554.4L790.2,551.2L792,548.2L793.8,545.3L795.5,542.4L797.2,539.7L799,536.9L800.8,534.2L802.6,531.7L804.2,529.5L805.5,527.6L806.5,526.2L806.5,526.2L805.4,527.5L803.8,529.2L802,531.3L800,533.6L797.9,536.1L795.8,538.7L793.9,541.3L791.9,544L789.8,546.7L787.7,549.6L785.5,552.6L783.5,555.8L781.6,559.2L780,562.9L778.6,566.6L777.4,570.4L776.4,574.4L775.5,578.6L774.8,582.9L774.3,587.6L773.9,592.4L773.8,597.7L774,603.4L774.7,609.3L775.5,615.2L776.4,621.1L777.4,626.8L778.4,632.2L779.4,637.7L780.7,643.4L782,649L783.3,654.3L784.5,659.1L785.5,663.2L786.3,666.2Z"/>
<path d="M874.3,681.5L874.2,680.2L874.1,678.7L874,676.8L873.8,674.5L873.6,671.9L873.2,668.9L872.7,665.4L871.9,661.3L870.9,656.6L869.7,651.4L868.4,646L867.1,640.6L865.9,635.6L864.9,631L864,626.9L863.1,623L862.2,619.3L861.4,615.8L860.7,612.3L860.3,609L860.1,605.6L860.1,602.2L860.3,598.9L860.8,595.6L861.4,592.3L862.1,589L863,585.7L864,582.4L865.4,579L867.1,575.3L869,571.5L871,567.8L872.8,564.5L874.4,561.7L875.5,559.7L875.5,559.7L874.2,561.6L872.3,564.2L870.2,567.4L867.8,570.8L865.5,574.4L863.4,578L861.7,581.5L860.3,584.8L859,588.1L857.9,591.4L856.9,594.8L856.1,598.3L855.5,601.8L855.2,605.5L855,609.2L855.1,612.9L855.4,616.7L855.9,620.4L856.5,624.3L857.2,628.3L858.2,632.6L859.4,637.2L860.9,642.3L862.5,647.6L864.3,652.9L866,657.9L867.6,662.5L868.8,666.3L869.8,669.6L870.5,672.4L871.1,674.9L871.6,677.1L872,678.9L872.3,680.5L872.5,681.7Z"/>
<path d="M532.3,668.7L534.9,666.1L538.5,662.5L542.7,658.3L547.4,653.6L552.2,648.8L556.9,644L561.3,639.6L565.6,635.5L570,631.2L574.5,626.9L579,622.6L583.5,618.4L587.9,614.3L592.1,610.3L596,606.6L599.8,603L603.4,599.6L607,596.2L610.5,592.8L614.1,589.5L617.7,586.1L621.4,582.6L625.2,579L628.9,575.4L632.7,571.9L636.4,568.4L639.9,565L643.3,561.8L646.6,558.6L649.9,555.4L653.1,552.3L656.1,549.3L658.9,546.5L661.5,543.9L663.8,541.6L665.8,539.5L667.5,537.6L668.9,536L670.2,534.5L671.2,533.3L672,532.2L672.7,531.4L672.7,531.4L672,532.2L671.1,533.2L670,534.4L668.7,535.8L667.2,537.3L665.4,539.1L663.3,541.1L660.9,543.3L658.2,545.7L655.2,548.4L652.1,551.2L648.7,554.2L645.3,557.2L641.9,560.2L638.3,563.3L634.6,566.4L630.7,569.7L626.8,573.1L622.9,576.4L618.9,579.8L615,583.1L611.3,586.3L607.5,589.5L603.8,592.7L600.1,595.8L596.3,599.1L592.3,602.5L588.2,606L583.9,609.7L579.3,613.6L574.6,617.6L569.8,621.7L565,625.8L560.4,630L556,634.4L551.7,639.2L547.3,644.3L543,649.7L538.9,654.9L535.3,659.7L532.2,663.8L530,666.7Z"/>
<path d="M521.1,823.9L525,820L530.3,814.6L536.6,808.2L543.4,801.1L550.3,793.7L556.9,786.4L562.9,779.8L568.3,773.2L573.8,766.6L579.3,760L584.8,753.6L590.1,747.4L595.2,741.5L600.1,736L604.6,730.8L609,725.8L613.2,721.1L617.2,716.7L621,712.7L624.4,709L627.4,705.8L630.1,703.1L632.4,700.9L634.5,699.2L636.2,697.7L637.7,696.5L639,695.6L640,694.7L640,694.7L638.9,695.5L637.6,696.3L636,697.3L634.1,698.6L631.8,700.2L629.2,702.2L626.3,704.6L622.9,707.5L619.2,710.8L615,714.5L610.6,718.5L605.9,722.8L601,727.3L596,732.1L590.6,737.1L584.9,742.5L579,748.1L572.9,754L566.7,760L560.5,766.1L554.5,772.3L548.5,779.2L542.3,786.9L536.1,795L530.3,803L525.1,810.3L520.8,816.4L517.6,821Z"/>
<path d="M614.9,623.7L617.2,622.8L620.4,621.6L624,620L627.9,618.2L631.8,616.2L635.4,614.1L638.8,612.3L642.2,610.8L645.6,609.4L649.2,608.2L652.9,607L656.6,606L660.3,605L663.9,604.1L667.7,603.4L671.6,602.7L675.7,602.2L679.6,601.7L683.4,601.3L686.8,601L689.8,600.8L692.3,600.6L694.5,600.5L696.5,600.6L698.1,600.6L699.5,600.7L700.6,600.8L701.6,600.8L701.6,600.8L700.7,600.7L699.5,600.5L698.1,600.2L696.5,599.9L694.6,599.7L692.3,599.5L689.8,599.4L686.8,599.3L683.3,599.2L679.5,599.1L675.5,599.1L671.3,599.1L667.2,599.3L663.2,599.7L659.3,600.1L655.4,600.6L651.5,601.3L647.6,602L643.6,602.9L639.8,603.9L635.9,605.1L631.8,606.7L627.6,608.5L623.7,610.9L620.1,613.5L617,616.1L614.5,618.3L612.6,619.9Z"/>
<path d="M611.9,702.4L614.3,701.6L617.5,700.5L621.1,699.2L625.2,697.7L629.5,696.3L633.9,695.1L638.3,694L642.8,693L647.4,692.1L652.3,691.4L657.6,690.7L663.4,690.1L669.8,689.6L676.9,689L684.8,688.4L693.6,687.8L703.1,687.3L712.9,686.9L722.9,686.4L732.8,685.8L742.3,685.3L752.1,684.6L762.6,683.8L773.3,683L783.5,682.1L792.9,681.4L800.7,680.8L806.5,680.3L806.5,680.3L800.7,680.5L792.8,680.7L783.5,681L773.2,681.4L762.5,681.7L752,681.9L742.2,682.1L732.7,682.3L722.8,682.3L712.8,682.3L702.9,682.3L693.5,682.3L684.6,682.5L676.5,682.7L669.4,682.9L662.9,683.2L657,683.5L651.5,683.9L646.3,684.4L641.3,685.1L636.4,686L631.5,687.5L626.8,689.3L622.5,691.5L618.6,693.6L615.2,695.7L612.4,697.4L610.3,698.6Z"/>
<path d="M619.8,553.5L623.9,550.8L629.3,547.2L635.8,542.9L643,538.2L650.5,533.2L658.1,528.2L665.3,523.5L672.5,518.9L679.9,514L687.4,509L695,503.9L702.5,498.9L710,494.2L717.4,489.9L724.7,485.9L732.1,482.2L739.5,478.7L746.9,475.4L754.3,472.4L761.6,469.5L769,466.9L776.4,464.5L783.8,462.4L791.3,460.6L798.7,458.9L806.2,457.3L813.6,455.8L821.1,454.2L829,452.5L837.5,450.9L846.2,449.2L854.6,447.7L862.2,446.3L868.6,445.2L873.4,444.3L873.4,444.3L868.6,445L862.2,446L854.5,447.1L846.1,448.3L837.3,449.6L828.7,451L820.7,452.3L813.2,453.6L805.7,454.9L798.2,456.2L790.6,457.7L783.1,459.3L775.5,461.1L767.9,463.3L760.3,465.7L752.7,468.3L745.1,471.1L737.5,474.2L729.9,477.5L722.3,481L714.6,484.8L706.9,488.9L699.1,493.4L691.3,498.2L683.6,503.2L676.1,508.3L668.8,513.4L661.8,518.3L654.7,523.3L647.4,528.8L640.2,534.2L633.3,539.5L627.2,544.3L622,548.3L618.2,551.2Z"/>
<path d="M678.2,599.5L680.7,597.8L684.1,595.4L688.1,592.6L692.5,589.6L697,586.4L701.3,583.2L705.3,580.4L709,577.7L712.8,575L716.4,572.2L720.1,569.5L723.8,566.8L727.4,564.1L730.9,561.4L734.4,558.8L737.8,556.2L741.3,553.6L744.6,551.1L747.9,548.6L751,546.3L753.8,544.2L756.3,542.3L758.6,540.6L760.7,539.1L762.8,537.6L764.8,536L766.9,534.2L769.2,532.2L771.7,529.8L774.6,526.9L777.5,523.8L780.4,520.7L783,517.9L785.2,515.5L786.8,513.8L786.8,513.8L785.1,515.4L782.7,517.6L779.8,520.2L776.7,523L773.5,525.8L770.5,528.4L767.8,530.6L765.4,532.4L763.2,533.9L761.1,535.2L759,536.5L756.8,537.9L754.4,539.4L751.7,541.1L748.6,543L745.4,545L742,547.2L738.4,549.4L734.8,551.7L731.1,554L727.4,556.3L723.7,558.7L719.9,561L716,563.5L712.1,565.9L708.1,568.4L704.3,571.2L700.5,574.1L696.6,577.3L692.6,580.9L688.5,584.7L684.7,588.5L681.2,591.9L678.3,594.8L676.2,597Z"/>
<path d="M675,534.7L675.1,534.7L674.5,532.4L675.1,534.8L675.3,534.9L675.9,535.1L677,535.3L678.8,535.4L681.3,535.2L684.2,534.7L687.5,533.7L691.1,532.4L695,531.1L699.2,529.9L703.6,528.7L708.3,527.5L713.4,526.3L718.9,525.1L724.6,523.9L730.5,522.7L736.5,521.5L742.5,520.4L748.9,519.4L756,518.2L763.4,517.2L770.6,516.1L777.2,515.2L782.8,514.4L786.8,513.8L786.8,513.8L782.7,514.1L777.1,514.5L770.5,514.9L763.2,515.4L755.8,516L748.5,516.6L742,517.2L735.9,517.8L729.9,518.5L723.9,519.3L718,520.1L712.4,520.9L707.1,521.8L702.2,522.6L697.6,523.5L693.2,524.5L689.1,525.5L685.3,526.5L682,527.6L679.3,528.8L677.2,530L675.7,531L674.9,531.8L674.5,532.3L674.4,532.4L675.1,534.8L674.5,532.5L674.4,532.6Z"/>
<path d="M747.4,603.9L749.6,602.9L752.6,601.4L756.1,599.6L759.8,597.7L763.6,595.7L767.2,593.7L770.4,591.9L773.6,590.2L777,588.6L780.6,587.2L784.2,585.9L787.9,584.6L791.5,583.6L795.2,582.6L798.8,581.8L802.7,581.1L806.6,580.6L810.5,580.2L814.2,579.8L817.7,579.6L820.9,579.3L823.8,579.2L826.6,579.1L829.2,579.1L831.5,579.2L833.6,579.2L835.3,579.3L836.6,579.3L836.6,579.3L835.3,579.1L833.6,578.8L831.6,578.5L829.3,578.1L826.7,577.8L823.9,577.5L820.9,577.2L817.7,577.1L814.2,576.9L810.4,576.7L806.4,576.6L802.3,576.6L798.2,576.8L794.2,577.1L790.3,577.6L786.3,578.3L782.3,579L778.3,579.9L774.3,581L770.4,582.2L766.5,583.6L762.6,585.4L758.7,587.9L755.1,590.7L751.9,593.6L749,596.4L746.7,598.7L745,600.4Z"/>
<path d="M677.7,665.3L680.3,664.2L683.8,662.7L688,660.7L692.4,658.5L696.7,656L700.7,653.3L704.4,651.2L707.9,649.3L711.5,647.6L715.1,646.1L718.7,644.7L722.3,643.4L725.9,642.2L729.4,641.3L733.1,640.5L737.1,639.8L741.2,639.4L745.2,639L748.8,638.8L751.8,638.5L754,638.3L754,638.3L751.8,638.3L748.8,638.1L745.2,637.9L741.2,637.7L737,637.6L732.8,637.7L728.8,638L725,638.6L721.2,639.3L717.3,640.1L713.4,641.1L709.4,642.2L705.4,643.5L701.4,644.9L697.2,646.8L692.6,649L688.2,651.7L684.2,654.8L680.7,657.8L677.8,660.3L675.7,662.2Z"/>
<path d="M678.9,734.9L681.2,734.1L684.1,732.8L687.5,731.3L691.4,729.7L695.5,728L699.7,726.5L704,725.1L708.5,723.8L713.4,722.6L718.6,721.5L724.2,720.5L730,719.6L736.2,718.6L742.6,717.6L749.3,716.7L756.4,715.7L763.8,714.8L771.4,713.9L779.2,713L787,712L794.8,711.1L803.2,710L812.3,708.9L821.6,707.7L830.7,706.5L839,705.4L846,704.6L851.1,703.9L851.1,703.9L845.9,704.3L838.9,704.8L830.6,705.5L821.5,706.2L812.1,706.9L802.9,707.6L794.5,708.3L786.7,708.8L778.9,709.4L771.1,709.9L763.4,710.4L755.9,711L748.7,711.5L741.9,712.2L735.4,712.8L729.2,713.5L723.2,714.2L717.5,714.9L712,715.7L706.8,716.7L701.8,717.9L697.1,719.5L692.6,721.6L688.4,723.9L684.8,726.2L681.6,728.4L679.1,730.3L677.1,731.6Z"/>
<path d="M744.4,687.6L746.2,686.7L748.5,685.5L751.2,684.1L754.2,682.6L757.5,681.1L760.8,679.8L764.3,678.7L767.8,677.8L771.6,676.9L775.5,675.9L779.7,675L784.3,674.2L789.3,673.5L794.9,672.8L801.3,672.2L808.3,671.8L815.8,671.4L823.6,671L831.6,670.7L839.5,670.4L847.2,669.9L854.7,669.5L862.3,669L870,668.6L877.5,668.1L885,667.6L892.4,667.1L899.6,666.5L907.1,666L914.9,665.3L922.7,664.6L930.2,664L936.9,663.4L942.6,662.8L946.8,662.5L946.8,662.5L942.6,662.7L936.9,663L930.1,663.3L922.6,663.7L914.8,664L907,664.4L899.5,664.7L892.3,664.9L884.9,665.1L877.4,665.3L869.8,665.5L862.2,665.7L854.6,665.8L847.1,666L839.4,666.1L831.5,666.1L823.5,666.1L815.6,666.2L808,666.3L800.9,666.5L794.4,666.8L788.6,667.3L783.4,667.8L778.6,668.5L774.1,669.2L769.9,670.1L766,671.2L762.2,672.4L758.4,674L754.9,675.9L751.6,678L748.7,680L746.2,681.9L744.2,683.5L742.7,684.6Z"/>
<path d="M779.1,775.2L782,772.4L786,768.8L790.6,764.4L795.7,759.5L801,754.1L806.3,748.6L811.1,742.8L816.1,736.8L821.5,730.3L827.2,723.5L833,716.7L838.6,710.2L843.7,704.2L848.3,699L852.3,694.4L856.1,690.3L859.5,686.6L862.7,683.4L865.4,680.6L867.6,678.2L869.4,676.4L869.4,676.4L867.5,678L865,680.1L862,682.6L858.6,685.6L854.7,688.9L850.5,692.6L846,696.8L840.9,701.5L835.2,707L829,712.9L822.6,719.1L816.2,725.3L810.1,731.3L804.5,736.8L799.2,742.2L794.2,748.1L789.6,754.1L785.3,759.8L781.6,765L778.5,769.4L776.2,772.7Z"/>
<path d="M786.6,709.6L790,707L794.5,703.6L799.8,699.4L805.6,694.7L811.7,689.6L817.6,684.4L823,679.2L828.4,673.9L834.1,668.4L839.9,662.6L845.6,656.9L851.2,651.3L856.5,646.1L861.3,641.3L865.7,637L869.9,633.1L873.7,629.3L877.4,625.9L880.7,622.7L883.9,619.7L886.8,617L889.6,614.4L892.1,612.1L894.4,610L896.5,608.2L898.2,606.6L899.7,605.3L900.9,604.2L900.9,604.2L899.7,605.2L898.1,606.5L896.2,607.9L894.1,609.7L891.7,611.6L889,613.8L886.1,616.2L883,618.7L879.7,621.5L876.1,624.5L872.3,627.8L868.2,631.2L863.9,635L859.2,639L854.1,643.5L848.5,648.4L842.6,653.7L836.5,659.1L830.4,664.4L824.5,669.7L818.8,674.6L813.1,679.5L807.3,684.7L801.6,690.1L796.2,695.3L791.4,700.1L787.4,704.1L784.4,707.1Z"/>
<path d="M876.6,640.2L878.9,638.6L882,636.5L885.7,633.9L889.7,631.1L893.9,628L898,624.9L901.8,621.9L905.3,618.8L908.9,615.7L912.5,612.6L916.2,609.4L919.9,606.3L923.5,603.1L927.2,600L930.9,596.8L934.6,593.5L938.4,590.3L942.1,587.1L945.7,583.9L949.3,580.9L952.6,578L956,575.2L959.4,572.3L962.8,569.5L966,566.8L968.8,564.5L971.2,562.5L973,561L973,561L971.1,562.3L968.6,564.1L965.6,566.3L962.2,568.7L958.6,571.3L955,573.9L951.4,576.5L947.8,579.1L944.1,581.9L940.2,584.7L936.3,587.7L932.3,590.6L928.3,593.6L924.4,596.5L920.5,599.3L916.6,602.2L912.7,605.1L908.8,608L905,610.9L901.1,613.7L897.4,616.5L893.7,619.6L889.8,623L885.9,626.4L882.3,629.8L879.1,632.9L876.4,635.6L874.4,637.5Z"/>
<path d="M877,579L879.2,578.8L882.2,578.5L885.6,578L889.3,577.2L893.1,576.2L896.8,575L900.3,574L903.8,573.1L907.4,572.3L911,571.5L914.8,570.7L918.6,570L922.4,569.3L926.1,568.6L929.9,567.9L933.7,567.3L937.5,566.7L941.3,566.1L945.1,565.5L948.7,564.9L952.2,564.3L955.6,563.7L959.1,563L962.6,562.4L965.8,561.8L968.7,561.3L971.2,560.8L973,560.5L973,560.5L971.1,560.6L968.7,560.9L965.7,561.1L962.4,561.5L958.9,561.8L955.4,562.1L951.9,562.4L948.4,562.7L944.8,562.9L941,563.2L937.1,563.4L933.2,563.7L929.3,564L925.5,564.3L921.7,564.7L917.9,565.1L914,565.4L910.2,565.8L906.3,566.3L902.6,566.8L898.9,567.4L895.1,568.1L891.1,569L887.2,570.1L883.6,571.5L880.5,573L877.9,574.4L876,575.4Z"/>
<path d="M875.7,696.9L877.7,696L880.3,694.8L883.5,693.4L886.8,691.8L890.1,690L893.2,688.2L895.9,686.5L898.3,685.2L900.5,684L902.7,682.9L905,681.9L907.4,681L910.1,680L913.2,678.9L917,677.8L921.6,676.6L926.6,675.4L931.5,674.2L936.2,673.2L940.1,672.3L942.9,671.6L942.9,671.6L940,671.9L936,672.3L931.3,672.7L926.2,673.1L921.1,673.7L916.3,674.2L912.2,674.8L908.9,675.5L905.9,676.1L903.2,676.7L900.6,677.5L898.1,678.3L895.6,679.3L892.8,680.3L889.7,681.7L886.3,683.6L883.1,685.8L880.1,688.1L877.5,690.3L875.3,692.2L873.7,693.6Z"/>
<path d="M876.8,758.4L878.5,757.7L880.7,756.8L883.2,755.8L886,754.6L889,753.4L892.2,752.2L895.4,751L898.9,749.8L902.6,748.7L906.5,747.7L910.8,746.7L915.4,745.7L920.5,744.7L926.2,743.7L932.5,742.8L939.5,741.8L947,740.8L954.9,739.8L962.8,738.9L970.7,737.9L978.4,736.9L986.3,735.9L994.9,734.8L1003.6,733.7L1011.9,732.6L1019.6,731.6L1026,730.7L1030.7,730.1L1030.7,730.1L1026,730.5L1019.5,731L1011.8,731.6L1003.4,732.3L994.7,733L986.1,733.7L978.1,734.3L970.4,734.9L962.5,735.5L954.5,736L946.6,736.6L939,737.2L931.9,737.8L925.4,738.5L919.7,739.3L914.4,740L909.6,740.8L905.1,741.6L901,742.4L897.1,743.4L893.3,744.4L889.6,745.7L886.2,747.4L883.2,749.3L880.5,751.1L878.3,752.9L876.5,754.3L875.1,755.3Z"/>
<path d="M882.7,487L883.6,486L884.6,484.7L885.8,483.3L887.1,481.7L888.6,480.2L890,478.9L891.6,477.8L893.2,476.8L894.9,475.7L896.6,474.8L898.5,473.8L900.6,472.8L903.1,471.6L906.2,470.3L909.7,469L913.7,467.7L918.1,466.4L922.9,465L928.1,463.6L933.6,462.1L939.5,460.4L946.3,458.5L954.2,456.2L962.6,453.9L971,451.5L978.8,449.3L985.3,447.5L990.1,446.2L990.1,446.2L985.2,447L978.6,448.2L970.6,449.7L962,451.2L953.4,452.8L945.3,454.3L938.4,455.5L932.4,456.6L926.7,457.6L921.4,458.6L916.4,459.5L911.8,460.4L907.5,461.4L903.5,462.4L900,463.5L896.9,464.7L894.3,466.1L892.1,467.5L890.1,469L888.3,470.6L886.6,472.2L885,474.2L883.5,476.4L882.4,478.6L881.5,480.7L880.7,482.5L880.2,484L879.7,485.1Z"/>
<path d="M876.3,535.1L876.5,535.2L876.7,535.3L876.9,535.5L877.3,535.6L877.9,535.9L878.9,536.2L880.4,536.4L882.1,536.6L883.9,536.7L886.1,536.7L888.7,536.4L891.8,535.9L895.7,535.1L900.4,534L906.2,532.6L913,530.9L920.6,529L928.6,526.9L936.8,524.8L944.9,522.8L952.6,520.9L960,519.1L967.5,517.4L975,515.7L982.5,514L989.9,512.4L997.3,510.7L1004.7,509.1L1012.5,507.4L1020.8,505.6L1029.3,503.7L1037.4,502L1044.8,500.4L1051,499.1L1055.6,498.1L1055.6,498.1L1051,498.9L1044.7,499.9L1037.3,501.1L1029,502.4L1020.5,503.8L1012.1,505.2L1004.2,506.5L996.8,507.8L989.3,509L981.7,510.3L974.2,511.6L966.6,512.9L959,514.3L951.5,515.7L943.6,517.2L935.4,518.8L927.1,520.5L919,522.1L911.4,523.7L904.5,525L898.8,526.1L894.1,526.9L890.4,527.5L887.4,527.9L885,528.4L882.9,528.9L881.1,529.4L879.4,530.1L878.1,530.8L877.2,531.3L876.7,531.8L876.4,532.1L876.2,532.3L876.1,532.4L875.9,532.6Z"/>
<path d="M816.8,517.6L815.3,515.9L814.9,515.8L814.6,515.8L816.8,518.4L817.5,518.3L818.9,518L821.2,517L824.1,515L827.4,512L831.2,508.5L835.4,504.5L839.8,500.4L844.5,496.1L849.2,491.9L854.2,487.6L859.7,482.8L865.6,477.9L871.5,473L877.3,468.1L882.7,463.6L887.6,459.4L892,455.8L895.8,452.4L899.3,449.3L902.6,446.4L906,443.6L909.5,440.8L913.3,437.8L917.7,434.6L922.6,431.2L927.7,427.7L932.8,424.3L937.4,421.3L941.3,418.7L944.2,416.8L944.2,416.8L941.2,418.5L937.2,420.9L932.4,423.7L927.2,426.8L921.8,430L916.7,433.2L912.1,436.2L908.1,439L904.4,441.7L900.9,444.3L897.4,447.1L893.7,450L889.8,453.1L885.3,456.5L880.2,460.4L874.5,464.6L868.4,469.2L862.3,473.8L856.2,478.4L850.4,482.8L845.1,487L840.1,491L835.2,495L830.4,499L826,502.7L822,506.1L818.7,509L816.5,511.7L815.2,513.8L814.7,515.2L814.6,515.8L816.8,518.4L816.9,518L816.9,517.7L815.3,515.9Z"/>
<path d="M823.2,495L824.8,492.7L826.8,489.7L829.1,485.9L831.5,481.8L833.8,477.2L835.9,472.5L837.4,467.6L838.9,462.7L840.6,457.4L842.4,452L844.2,446.4L846,440.9L847.9,435.4L849.6,430.1L851.3,424.9L853,419.6L854.7,414.4L856.3,409.3L858,404.4L859.5,399.7L861,395.3L862.5,391.2L864,387L865.5,383.1L866.8,379.4L868.1,376.2L869.1,373.5L870,371.4L870,371.4L869.1,373.5L867.9,376.1L866.5,379.3L864.9,382.8L863.1,386.7L861.3,390.7L859.5,394.7L857.6,399L855.6,403.5L853.5,408.2L851.4,413.2L849.2,418.2L846.9,423.2L844.7,428.2L842.4,433.2L839.9,438.4L837.5,443.8L835,449.1L832.6,454.3L830.2,459.3L828,464.1L826,468.8L824.4,473.8L823.3,478.8L822.5,483.6L821.9,487.9L821.5,491.6L821.2,494.3Z"/>
<path d="M748.8,549.4L751.9,548L756,546.1L761,543.9L766.5,541.3L772.3,538.4L778.1,535.3L783.7,532L789.2,528.5L794.8,524.5L800.3,520.2L805.9,515.7L811.5,511.2L817.1,506.7L822.6,502.3L828.2,498L834,493.7L839.8,489.4L845.5,485L851.1,480.7L856.3,476.4L861.1,472L865.5,467.5L869.8,462.6L873.7,457.6L877.3,452.9L880.5,448.5L883.1,444.9L885.2,442.2L885.2,442.2L882.9,444.8L880.1,448.2L876.6,452.3L872.8,456.8L868.5,461.4L864,466L859.4,470.1L854.4,474.1L849,478L843.3,481.9L837.3,485.8L831.2,489.7L825.1,493.6L819.2,497.6L813.4,501.6L807.5,505.8L801.6,509.9L795.7,514L790,517.9L784.6,521.9L779.4,525.5L774.3,529.1L768.9,532.6L763.6,536.1L758.5,539.3L753.9,542.2L750.1,544.7L747.2,546.6Z"/>
</g>
<g>
<path d="M931.6,1025.2C935.2,1025.8 941.7,1027.7 945.2,1030.4C948.7,1033.1 952,1037.8 952.5,1041.4C952.9,1045.1 951.5,1049.1 948.1,1052.2C944.7,1055.3 937.2,1059.3 932.2,1060C927.1,1060.7 921.2,1059 917.7,1056.5C914.2,1054 911.5,1048.8 911,1044.9C910.5,1041.1 912.7,1036.3 914.8,1033.3C916.9,1030.3 920.7,1028.3 923.5,1027C926.3,1025.6 928,1024.6 931.6,1025.2Z" fill="#abb0b8"/><path d="M913.9,1040.6A19.4,19.4 0 0 1 933,1027.5" fill="none" stroke="#7d8592" stroke-width="2.6" stroke-linecap="round"/><path d="M923.5,1036.2A14.9,14.9 0 0 1 932.2,1032.2" fill="none" stroke="#7d8592" stroke-width="2" stroke-linecap="round"/>
<path d="M1084.3,918.8C1088.7,919.5 1096.1,921.5 1100.3,924.6C1104.5,927.8 1108.8,933.3 1109.6,937.7C1110.3,942 1108.1,947.1 1104.6,950.7C1101.2,954.3 1093.8,957.8 1088.7,959.4C1083.6,961 1078.6,961.5 1074.2,960.3C1069.9,959.1 1065.1,955.5 1062.6,952.2C1060.1,948.9 1058.6,944.7 1059.1,940.6C1059.6,936.5 1063,930.8 1065.5,927.5C1068,924.3 1071.1,922.3 1074.2,920.9C1077.3,919.4 1080,918.2 1084.3,918.8Z" fill="#abb0b8"/><path d="M1062.6,937.7A22.8,22.8 0 0 1 1085.8,922" fill="none" stroke="#7d8592" stroke-width="2.9" stroke-linecap="round"/><path d="M1073.3,931.9A16.4,16.4 0 0 1 1084.3,926.7" fill="none" stroke="#7d8592" stroke-width="2.3" stroke-linecap="round"/>
<path d="M1203.2,968.7C1207.1,968.9 1211.9,971.6 1214.8,973.9C1217.6,976.2 1220,979.7 1220.3,982.6C1220.5,985.5 1218.8,989.2 1216.2,991.3C1213.6,993.4 1208.5,994.9 1204.6,995.1C1200.8,995.2 1195.9,994.3 1193,992.2C1190.1,990.1 1187.5,985.9 1187.2,982.6C1187,979.3 1188.9,974.8 1191.6,972.5C1194.3,970.1 1199.3,968.5 1203.2,968.7Z" fill="#abb0b8"/><path d="M1193.9,974.8A15.1,15.1 0 0 1 1209,971.9" fill="none" stroke="#7d8592" stroke-width="2.3" stroke-linecap="round"/><path d="M1198.8,974.8A16.7,16.7 0 0 1 1207.5,974.2" fill="none" stroke="#7d8592" stroke-width="1.4" stroke-linecap="round"/>
<path d="M1149.6,927C1156.3,927.2 1166.2,928.6 1172.8,931.9C1179.3,935.1 1185.6,941.3 1188.7,946.4C1191.8,951.4 1192.8,956.5 1191.6,962.3C1190.4,968.1 1187,975.8 1181.4,981.2C1175.9,986.5 1165.5,991.4 1158.3,994.2C1151,997 1144.3,998.4 1138,997.7C1131.7,997 1125.4,994.1 1120.6,989.9C1115.7,985.7 1111.2,977.8 1109,972.5C1106.8,967.1 1106.1,963.3 1107.5,958C1109,952.7 1113.6,945.2 1117.7,940.6C1121.8,936 1126.9,932.7 1132.2,930.4C1137.5,928.2 1142.8,926.7 1149.6,927Z" fill="#abb0b8"/><path d="M1113.3,959.4A34.7,34.7 0 0 1 1151,932.8" fill="none" stroke="#7d8592" stroke-width="4.9" stroke-linecap="round"/><path d="M1130.7,950.7A27.5,27.5 0 0 1 1149.6,940.6" fill="none" stroke="#7d8592" stroke-width="4.3" stroke-linecap="round"/>
<path d="M1036.5,958C1047.1,958.7 1065,960 1077.1,964.3C1089.2,968.7 1101.5,975.5 1109,984.1C1116.5,992.7 1121.1,1004.8 1122,1015.9C1123,1027.1 1120.3,1040.1 1114.8,1050.7C1109.2,1061.4 1098.8,1072.7 1088.7,1079.7C1078.6,1086.7 1065.5,1090.7 1053.9,1092.8C1042.3,1094.8 1030.2,1094.5 1019.1,1091.9C1008,1089.2 995.9,1083.7 987.2,1076.8C978.6,1070 971.4,1059.4 967,1050.7C962.5,1042 960.3,1034.3 960.3,1024.6C960.3,1015 962,1001.9 967,992.8C971.9,983.6 982.4,975 990.1,969.6C997.9,964.1 1005.6,961.9 1013.3,960C1021.1,958.1 1025.9,957.2 1036.5,958Z" fill="#abb0b8"/><path d="M994.5,982A67.5,67.5 0 0 0 970.7,1026.1" fill="none" stroke="#7d8592" stroke-width="8.7" stroke-linecap="round"/><path d="M1002.3,995.1A95.5,95.5 0 0 0 999.7,1069" fill="none" stroke="#7d8592" stroke-width="8.7" stroke-linecap="round"/>
<path d="M1109,1070.1C1113.1,1070.6 1119.5,1072.3 1123.5,1075.4C1127.5,1078.4 1132.3,1084.1 1133,1088.4C1133.8,1092.8 1131.8,1097.8 1127.8,1101.4C1123.8,1105.1 1114.8,1109.2 1109,1110.1C1103.2,1111.1 1097,1109.9 1093,1107.2C1089.1,1104.6 1085.9,1098.8 1085.2,1094.2C1084.5,1089.6 1086.4,1083.3 1088.7,1079.7C1091,1076.1 1095.5,1074.1 1098.8,1072.5C1102.2,1070.9 1104.9,1069.7 1109,1070.1Z" fill="#abb0b8"/><path d="M1089.3,1088.4A24.8,24.8 0 0 1 1110.4,1073.3" fill="none" stroke="#7d8592" stroke-width="2.9" stroke-linecap="round"/><path d="M1098.8,1082.6A17.2,17.2 0 0 1 1109,1077.4" fill="none" stroke="#7d8592" stroke-width="2.3" stroke-linecap="round"/>
<path d="M1175.7,992.8C1185.3,992 1194.5,993.2 1204.6,997.1C1214.8,1001 1227.3,1009.4 1236.5,1015.9C1245.7,1022.5 1255,1030.9 1259.7,1036.2C1264.4,1041.5 1265.4,1043 1264.9,1047.8C1264.4,1052.7 1263,1060.1 1256.8,1065.2C1250.6,1070.3 1239.4,1074.4 1227.8,1078.3C1216.2,1082.1 1199.8,1087.4 1187.2,1088.4C1174.7,1089.4 1162.6,1087.9 1152.5,1084.1C1142.3,1080.2 1132.1,1071.7 1126.4,1065.2C1120.7,1058.7 1118.3,1052.7 1118.3,1044.9C1118.3,1037.2 1121.6,1026.1 1126.4,1018.8C1131.1,1011.6 1138.5,1005.8 1146.7,1001.4C1154.9,997.1 1166,993.5 1175.7,992.8Z" fill="#abb0b8"/><path d="M1130.7,1033.3A94.9,94.9 0 0 1 1203.2,1012.2" fill="none" stroke="#7d8592" stroke-width="7.8" stroke-linecap="round"/><path d="M1164.1,1002.9A102,102 0 0 1 1216.2,1006.4" fill="none" stroke="#7d8592" stroke-width="7.2" stroke-linecap="round"/>
<path d="M1358.3,1010.7C1368.4,1011.9 1385.8,1013.1 1395.9,1018.8C1406.1,1024.5 1414.7,1035.3 1419.1,1044.9C1423.6,1054.6 1424.1,1065.2 1422.6,1076.8C1421.2,1088.4 1416.8,1103.4 1410.4,1114.5C1404.1,1125.6 1393.5,1136 1384.3,1143.5C1375.2,1151 1364.1,1156.4 1355.4,1159.4C1346.7,1162.5 1339.9,1162.9 1332.2,1161.7C1324.4,1160.5 1316.7,1159.1 1309,1152.2C1301.3,1145.3 1292.1,1131.4 1285.8,1120.3C1279.5,1109.2 1274.3,1095.2 1271.3,1085.5C1268.3,1075.8 1266.9,1070.5 1267.8,1062.3C1268.8,1054.1 1270.7,1043.5 1277.1,1036.2C1283.5,1029 1296.4,1022.9 1306.1,1018.8C1315.7,1014.7 1326.4,1012.9 1335.1,1011.6C1343.8,1010.2 1348.1,1009.5 1358.3,1010.7Z" fill="#abb0b8"/><path d="M1308.4,1121.7A81.6,81.6 0 0 0 1395.9,1110.1" fill="none" stroke="#7d8592" stroke-width="9.3" stroke-linecap="round"/><path d="M1291.6,1126.7A44.6,44.6 0 0 0 1339.4,1147.8" fill="none" stroke="#7d8592" stroke-width="9.3" stroke-linecap="round"/>
<path d="M1416.2,1142C1427.8,1144 1445.7,1148.1 1459.7,1155.1C1473.7,1162.1 1489.4,1173.4 1500.3,1184.1C1511.2,1194.7 1520.3,1208.2 1524.9,1218.8C1529.6,1229.5 1529.3,1238.6 1528.1,1247.8C1526.9,1257 1522.8,1266.9 1517.7,1273.9C1512.6,1280.9 1507.1,1286.2 1497.4,1289.9C1487.7,1293.5 1472.8,1295.2 1459.7,1295.7C1446.7,1296.1 1431.9,1295.3 1419.1,1292.8C1406.3,1290.2 1393.6,1285.9 1382.9,1280.3C1372.2,1274.6 1361.8,1267.6 1354.8,1258.8C1347.8,1250 1344.1,1237.1 1340.9,1227.5C1337.7,1218 1335.2,1210.6 1335.7,1201.4C1336.1,1192.3 1338.6,1180.7 1343.8,1172.5C1349,1164.3 1359.2,1157 1367,1152.2C1374.7,1147.3 1381.9,1145.2 1390.1,1143.5C1398.4,1141.8 1404.6,1140.1 1416.2,1142Z" fill="#abb0b8"/><path d="M1355.4,1181.2A83.1,83.1 0 0 1 1453.9,1163.8" fill="none" stroke="#7d8592" stroke-width="11" stroke-linecap="round"/><path d="M1398.8,1179.7A45.3,45.3 0 0 1 1446.7,1178.8" fill="none" stroke="#7d8592" stroke-width="9.9" stroke-linecap="round"/>
</g>
<path d="M1041,1130C1043.8,1135.8 1053.3,1152.5 1058,1165C1062.7,1177.5 1065.7,1190.8 1069,1205C1072.3,1219.2 1074.5,1234.5 1078,1250C1081.5,1265.5 1084.7,1283.5 1090,1298C1095.3,1312.5 1101.7,1326 1110,1337C1118.3,1348 1128.2,1355.2 1140,1364C1151.8,1372.8 1160.3,1379.5 1181,1390C1201.7,1400.5 1236.3,1417 1264,1427C1291.7,1437 1318,1442.8 1347,1450C1376,1457.2 1397.8,1462.1 1438,1470C1478.2,1477.9 1538,1489.2 1588,1497.5C1638,1505.8 1684.7,1513.1 1738,1520C1791.3,1526.9 1870.5,1535.2 1908,1539C1945.5,1542.8 1924.7,1540 1963,1542.5C2001.3,1545 2083.8,1550.2 2138,1554C2192.2,1557.8 2238,1560.7 2288,1565C2338,1569.3 2390,1574.6 2438,1580C2486,1585.4 2517.2,1589.3 2576,1597.5C2634.8,1605.7 2746.8,1622.8 2791,1629C2835.2,1635.2 2810.2,1630.7 2841,1635C2871.8,1639.3 2925.6,1648.5 2976,1655C3026.4,1661.5 3115.6,1670.8 3143.5,1674L3141,1575 3136,1473.5C3109.3,1469.6 3022.2,1456.2 2976,1450C2929.8,1443.8 2887.7,1439.3 2858.5,1436C2829.3,1432.7 2848.1,1435 2801,1430C2753.9,1425 2636.5,1412.2 2576,1406C2515.5,1399.8 2486,1396.7 2438,1392.5C2390,1388.3 2338,1384.3 2288,1381C2238,1377.7 2192.6,1375.3 2138,1372.5C2083.4,1369.7 1999.7,1365.9 1960.5,1364C1921.3,1362.1 1931.8,1361.8 1903,1361C1874.2,1360.2 1823.8,1360 1788,1359C1752.2,1358 1721.3,1357.3 1688,1355C1654.7,1352.7 1621.3,1350 1588,1345C1554.7,1340 1517.2,1333.7 1488,1325C1458.8,1316.3 1429.8,1301.3 1413,1293C1396.2,1284.7 1398.5,1284.3 1387,1275C1375.5,1265.7 1357.4,1253.3 1343.8,1237C1330.2,1220.7 1316.1,1196 1305.5,1177C1294.9,1158 1287.9,1139.8 1280,1123C1272.1,1106.2 1261.9,1083.8 1258.3,1076Z" fill="#bfb0b0"/>
<clipPath id="matclip"><path d="M1041,1130C1043.8,1135.8 1053.3,1152.5 1058,1165C1062.7,1177.5 1065.7,1190.8 1069,1205C1072.3,1219.2 1074.5,1234.5 1078,1250C1081.5,1265.5 1084.7,1283.5 1090,1298C1095.3,1312.5 1101.7,1326 1110,1337C1118.3,1348 1128.2,1355.2 1140,1364C1151.8,1372.8 1160.3,1379.5 1181,1390C1201.7,1400.5 1236.3,1417 1264,1427C1291.7,1437 1318,1442.8 1347,1450C1376,1457.2 1397.8,1462.1 1438,1470C1478.2,1477.9 1538,1489.2 1588,1497.5C1638,1505.8 1684.7,1513.1 1738,1520C1791.3,1526.9 1870.5,1535.2 1908,1539C1945.5,1542.8 1924.7,1540 1963,1542.5C2001.3,1545 2083.8,1550.2 2138,1554C2192.2,1557.8 2238,1560.7 2288,1565C2338,1569.3 2390,1574.6 2438,1580C2486,1585.4 2517.2,1589.3 2576,1597.5C2634.8,1605.7 2746.8,1622.8 2791,1629C2835.2,1635.2 2810.2,1630.7 2841,1635C2871.8,1639.3 2925.6,1648.5 2976,1655C3026.4,1661.5 3115.6,1670.8 3143.5,1674L3141,1575 3136,1473.5C3109.3,1469.6 3022.2,1456.2 2976,1450C2929.8,1443.8 2887.7,1439.3 2858.5,1436C2829.3,1432.7 2848.1,1435 2801,1430C2753.9,1425 2636.5,1412.2 2576,1406C2515.5,1399.8 2486,1396.7 2438,1392.5C2390,1388.3 2338,1384.3 2288,1381C2238,1377.7 2192.6,1375.3 2138,1372.5C2083.4,1369.7 1999.7,1365.9 1960.5,1364C1921.3,1362.1 1931.8,1361.8 1903,1361C1874.2,1360.2 1823.8,1360 1788,1359C1752.2,1358 1721.3,1357.3 1688,1355C1654.7,1352.7 1621.3,1350 1588,1345C1554.7,1340 1517.2,1333.7 1488,1325C1458.8,1316.3 1429.8,1301.3 1413,1293C1396.2,1284.7 1398.5,1284.3 1387,1275C1375.5,1265.7 1357.4,1253.3 1343.8,1237C1330.2,1220.7 1316.1,1196 1305.5,1177C1294.9,1158 1287.9,1139.8 1280,1123C1272.1,1106.2 1261.9,1083.8 1258.3,1076Z"/></clipPath>
<path d="M1416.2,1142C1427.8,1144 1445.7,1148.1 1459.7,1155.1C1473.7,1162.1 1489.4,1173.4 1500.3,1184.1C1511.2,1194.7 1520.3,1208.2 1524.9,1218.8C1529.6,1229.5 1529.3,1238.6 1528.1,1247.8C1526.9,1257 1522.8,1266.9 1517.7,1273.9C1512.6,1280.9 1507.1,1286.2 1497.4,1289.9C1487.7,1293.5 1472.8,1295.2 1459.7,1295.7C1446.7,1296.1 1431.9,1295.3 1419.1,1292.8C1406.3,1290.2 1393.6,1285.9 1382.9,1280.3C1372.2,1274.6 1361.8,1267.6 1354.8,1258.8C1347.8,1250 1344.1,1237.1 1340.9,1227.5C1337.7,1218 1335.2,1210.6 1335.7,1201.4C1336.1,1192.3 1338.6,1180.7 1343.8,1172.5C1349,1164.3 1359.2,1157 1367,1152.2C1374.7,1147.3 1381.9,1145.2 1390.1,1143.5C1398.4,1141.8 1404.6,1140.1 1416.2,1142Z" fill="#8c8a96" fill-opacity="0.45" clip-path="url(#matclip)"/>
<g stroke="#7d6f6d" stroke-width="3.2" stroke-linecap="round">
<path d="M1998.8,1405.7L1984.9,1417.1M2111.4,1449.6L2121.4,1456.2M2414.6,1442.1L2412.7,1446.7M2092.9,1468.6L2089.2,1475.7M1827.4,1498.9L1834.3,1500.5M2361,1538.3L2363.9,1543.5M1289.5,1225.8L1294.5,1225.9M1352.8,1340.1L1349.8,1342.7M1482.5,1455L1481.3,1458.8M3029.3,1601.2L3038,1603.4M1148.2,1144.1L1140.2,1145M2411.2,1442.7L2414.4,1446.5M1814.5,1418L1819.3,1419.4M1336.3,1343.5L1333,1349.7M2492.4,1423.6L2491,1428.4M1188.3,1264.1L1183.3,1264.2M3006.6,1514.9L3002.6,1517.9M2262.1,1439.7L2266.9,1441.2M1289.2,1229.6L1284.6,1234.9M1857.4,1510.7L1858.6,1519.6M2016.1,1397.6L2010.4,1403.2M1341.3,1440.1L1348.2,1444.2M2940.7,1466.7L2940.7,1474.7M1336.6,1371.7L1323.4,1376.2M1132.5,1116.4L1127.4,1119.6M1274.1,1353.4L1288.2,1364.6M2543.5,1574L2544.8,1582.9M1277.3,1394.1L1269.1,1399.8M3053.6,1483.6L3048.5,1486.8M1321.6,1346.8L1312.2,1350.2M2385.7,1502.8L2390.1,1506.9M2200.7,1533.8L2192.9,1535.8M1607.3,1357.9L1609.7,1362.3M1788.7,1444.4L1788.7,1449.4M1455.4,1393.7L1462.3,1394.2M1468.7,1450.6L1476.4,1456.9M1501.5,1399.5L1493.4,1403.4M1432.9,1434.9L1415.4,1439.2M1080,1194.4L1084.3,1203.5M2199.4,1380.3L2199.9,1389.3M3118.3,1626.3L3117.1,1631.1M1892.7,1431.1L1890.6,1438.8M2610,1539.1L2596.3,1542M1326.1,1272L1321.5,1278.6M2648.1,1530.9L2653.7,1535.1M1145.8,1237.6L1151.7,1245.6M1290.9,1313.7L1299.8,1314.4M2332.5,1514.4L2333.6,1520.3M2099.6,1526.1L2103.4,1535.3M1246.7,1220.6L1255.4,1236.4M2194.2,1473.8L2195.6,1477.6M2182.8,1432.6L2175.9,1433.8M2657.4,1424.4L2666.2,1429.2M1883,1423.4L1872.1,1425.3M3003.1,1506.1L3010.3,1509.6M3128,1641.8L3138.1,1646.1M2054.3,1375.9L2049.6,1379.6M2563.8,1491.1L2561.4,1496.6M1168.7,1240.1L1175.7,1240.7M1121.7,1211.1L1127.6,1212.4M2565.2,1489.7L2559.6,1491.9M1501.4,1465.9L1504.3,1472.3M2933.1,1483.8L2934.3,1489.7M3067.7,1509.2L3073.4,1514.8M2270.1,1545.9L2267.9,1556.7M2767.3,1474.6L2781.3,1474.8M1175.2,1347.1L1175.8,1356.1M2904.1,1618.2L2900.7,1624.3M3083.9,1545.9L3091.7,1555M2877.6,1613.5L2871.2,1618.3M2537.3,1436.4L2538.6,1441.2M2122.2,1453.7L2128.3,1460.4M1218,1234.3L1217,1245.3M2909.5,1490.3L2904.6,1491M1895.6,1405.9L1891.6,1412.8M1183,1123.2L1187.7,1124.8M2012.5,1495.1L2016.3,1498.4M2403.6,1528.2L2395.7,1539.8M1888.4,1490.6L1878.9,1498M2425.5,1438.8L2428.2,1441.8M1831.7,1376.8L1839,1386.3M2122.6,1419.8L2116.6,1420M2131.9,1502.1L2118.2,1504.9M1218.1,1220.5L1220.4,1229.2M2758.5,1435.6L2753.6,1436.6M3106.3,1634L3115.3,1638.3M2624.3,1573.3L2630.8,1590M2282.1,1554.9L2285.6,1556.8M2348.9,1482.3L2352.3,1493.8M1667,1442.2L1662.3,1447.4M2298.4,1524L2292.8,1526.2M2507.4,1407.8L2504.1,1415.1M1631.1,1402.9L1627.2,1406M1173.7,1112.5L1168.4,1123.3M1791.7,1469.1L1803.7,1470.3M2380.2,1419.3L2388.3,1426.8M1352.2,1262.5L1349.9,1265.8M2756.5,1512.7L2764.6,1521.6M2027.6,1493.1L2016.6,1494.1M1127.8,1213.5L1126.4,1231.4M1235.4,1405.3L1237.3,1413.1M1209.1,1096.6L1201,1104M1133,1318.5L1123,1318.7M2596.6,1412.2L2580.2,1419.6M2049.2,1487.7L2044.3,1494M2889.6,1570.9L2884.6,1577.2M1256.3,1296.5L1263.3,1302.1M1538,1453L1534,1455.9M1294.3,1368.1L1297.2,1375.5M1729.6,1372.4L1734.2,1376.2M2945.5,1552.2L2943.4,1559.9M2518.3,1406L2507.7,1408.9M1090.8,1277.2L1097.7,1293.8M2023.4,1436.1L2030.9,1452.4M2409.6,1402.1L2402,1406.9M2892.5,1483.9L2898.5,1494.3M1803.5,1489.1L1802.7,1507M1463.2,1445.8L1467.6,1449.7M1192.1,1336.4L1179.9,1343.2M1345.1,1417.1L1339.3,1425.3M1611.7,1414L1609.4,1419.5M2196.8,1410.4L2201.7,1411.4M2217.1,1407L2216.2,1412.9M2417.4,1447.2L2422.4,1450.5M1157.8,1134.2L1150.8,1138M2904.4,1558.9L2901.8,1563.2M1837.5,1458.4L1835.3,1464M2099.3,1415.2L2104,1417M2592.8,1517.5L2589.3,1523.6M1158.9,1268.3L1159.7,1276.2M3120.2,1514.9L3126,1518.8M2028.3,1405.8L2024.7,1407.4M2631.6,1597.6L2627.5,1600.5M1258.5,1101.3L1251.5,1102.3M1534.2,1421.8L1539.8,1424.1M1606.2,1470L1604.2,1473.5M2758.1,1581.9L2766.6,1584.8M1403.7,1376L1399.6,1382.8M2408.5,1447.2L2398,1450.4M1294.7,1355.6L1296.3,1359.3M1783.8,1396.9L1775.9,1397.6M1182,1219.4L1191.6,1222.2M1901.5,1371.2L1883.6,1373.1M1603.5,1432.3L1605.9,1437.8M2756.3,1474.6L2760.6,1484.7M1703.3,1363.5L1702.9,1369.5M2146.7,1510.7L2148.7,1517.4M1670.9,1439.9L1679.8,1441.4M1156.9,1132.1L1155.2,1137.8M2348.2,1399L2356.8,1414.7M2550.7,1441.8L2543.6,1448.8M1755.8,1447.9L1738.4,1452.6M1295.5,1265.2L1288.3,1273.5M2493.6,1465.8L2488.7,1467M2726.5,1480.9L2724.7,1488.7M1838.6,1503.2L1831.9,1505.2M1184.9,1185.4L1178.2,1187.4M2346.1,1480.4L2339,1484.1M2643.8,1555.3L2647.4,1558.8M2275.3,1457.5L2281.2,1458.5M2054.1,1483.6L2049.5,1488.9M3012,1467L3014.9,1471.1M1432.5,1388.5L1430.1,1395.1M2981,1598.3L2982.3,1603.2M3010,1610.9L3014.6,1613" fill="none"/>
</g>
<g fill="#7d6f6d">
<path d="M3087.8,1642.4h0.01M2981.7,1588.3h0.01M2069.9,1429.7h0.01M2480.2,1442.7h0.01M1225.8,1387.4h0.01M2259.1,1528.4h0.01M3086.5,1573.4h0.01M2270.7,1391.5h0.01M1747,1479.5h0.01M1734.8,1510.1h0.01M2455.9,1547.9h0.01M1645.8,1431.2h0.01M1296.5,1241.6h0.01M1148.1,1261.7h0.01M2147.8,1399.9h0.01M2233.2,1531.3h0.01M1215.5,1212h0.01M1205.5,1263.2h0.01M1736.6,1416.5h0.01M1086,1210.1h0.01M1590.4,1446.3h0.01M1385.4,1381.2h0.01M1537.1,1425.5h0.01M2246.8,1454.1h0.01M2964.5,1485.6h0.01M2714,1501.3h0.01M2739.5,1554.4h0.01M2702.1,1441.4h0.01M2951.8,1632h0.01M3100.7,1595.8h0.01M2498,1528.8h0.01M2653.8,1544.9h0.01M1523.7,1466.9h0.01M2667.7,1491.1h0.01M2400.9,1486.3h0.01M2985.4,1619.6h0.01M1629.6,1389.4h0.01M2035.1,1520.8h0.01M1154.2,1290.3h0.01M1300.2,1336.3h0.01M2480,1531.4h0.01M2206.8,1459.6h0.01M3009,1614.3h0.01M1570.7,1400.4h0.01M1164.2,1169h0.01M2551.2,1510.3h0.01M2400.7,1497.9h0.01M1268.1,1361.1h0.01M3043.2,1606h0.01M1162.4,1122.1h0.01M1608.9,1491.1h0.01M2404.7,1483.3h0.01M1159.6,1360.4h0.01M2701.2,1499.2h0.01M1705.4,1449.3h0.01M2449.8,1518.6h0.01M3032.9,1468.2h0.01M1588.1,1443.2h0.01M2280.6,1501.6h0.01M2639.2,1522h0.01"/>
</g>
<path d="M3087.8,1642.4h0.01M2981.7,1588.3h0.01M2069.9,1429.7h0.01M2480.2,1442.7h0.01M1225.8,1387.4h0.01M2259.1,1528.4h0.01M3086.5,1573.4h0.01M2270.7,1391.5h0.01M1747,1479.5h0.01M1734.8,1510.1h0.01M2455.9,1547.9h0.01M1645.8,1431.2h0.01M1296.5,1241.6h0.01M1148.1,1261.7h0.01M2147.8,1399.9h0.01M2233.2,1531.3h0.01M1215.5,1212h0.01M1205.5,1263.2h0.01M1736.6,1416.5h0.01M1086,1210.1h0.01M1590.4,1446.3h0.01M1385.4,1381.2h0.01M1537.1,1425.5h0.01M2246.8,1454.1h0.01M2964.5,1485.6h0.01M2714,1501.3h0.01M2739.5,1554.4h0.01M2702.1,1441.4h0.01M2951.8,1632h0.01M3100.7,1595.8h0.01M2498,1528.8h0.01M2653.8,1544.9h0.01M1523.7,1466.9h0.01M2667.7,1491.1h0.01M2400.9,1486.3h0.01M2985.4,1619.6h0.01M1629.6,1389.4h0.01M2035.1,1520.8h0.01M1154.2,1290.3h0.01M1300.2,1336.3h0.01M2480,1531.4h0.01M2206.8,1459.6h0.01M3009,1614.3h0.01M1570.7,1400.4h0.01M1164.2,1169h0.01M2551.2,1510.3h0.01M2400.7,1497.9h0.01M1268.1,1361.1h0.01M3043.2,1606h0.01M1162.4,1122.1h0.01M1608.9,1491.1h0.01M2404.7,1483.3h0.01M1159.6,1360.4h0.01M2701.2,1499.2h0.01M1705.4,1449.3h0.01M2449.8,1518.6h0.01M3032.9,1468.2h0.01M1588.1,1443.2h0.01M2280.6,1501.6h0.01M2639.2,1522h0.01" fill="none" stroke="#7d6f6d" stroke-width="3.3" stroke-linecap="round"/>
<g>
<path d="M1803,1244C1816.3,1244 1831.3,1247.3 1843,1252.5C1854.7,1257.7 1866.5,1267.1 1873,1275C1879.5,1282.9 1882,1291.7 1882,1300C1882,1308.3 1878.7,1317.9 1873,1325C1867.3,1332.1 1858.8,1337.5 1848,1342.5C1837.2,1347.5 1821.3,1353.3 1808,1355C1794.7,1356.7 1779.2,1356.7 1768,1352.5C1756.8,1348.3 1746.7,1338.8 1740.5,1330C1734.3,1321.2 1731.4,1309.2 1731,1300C1730.6,1290.8 1732.7,1282.9 1738,1275C1743.3,1267.1 1752.2,1257.7 1763,1252.5C1773.8,1247.3 1789.7,1244 1803,1244Z" fill="#abb0b8"/><path d="M1741.5,1290A50.5,50.5 0 0 1 1806.5,1253.5" fill="none" stroke="#7d8592" stroke-width="8" stroke-linecap="round"/><path d="M1772,1279A48.7,48.7 0 0 1 1804.5,1267.5" fill="none" stroke="#7d8592" stroke-width="7" stroke-linecap="round"/>
<path d="M2008,1290C2017.6,1289.6 2029.7,1292.5 2038,1297.5C2046.3,1302.5 2053.6,1312.9 2058,1320C2062.4,1327.1 2065.3,1333.8 2064.5,1340C2063.7,1346.2 2059.1,1353.8 2053,1357.5C2046.9,1361.2 2037.2,1362.5 2028,1362.5C2018.8,1362.5 2006.3,1360.8 1998,1357.5C1989.7,1354.2 1982.2,1348.8 1978,1342.5C1973.8,1336.2 1972.6,1327.1 1973,1320C1973.4,1312.9 1974.7,1305 1980.5,1300C1986.3,1295 1998.4,1290.4 2008,1290Z" fill="#abb0b8"/><path d="M1987,1323.5A17.8,17.8 0 0 0 2010.5,1337.5" fill="none" stroke="#7d8592" stroke-width="6" stroke-linecap="round"/><path d="M1980.5,1337.5A47.9,47.9 0 0 0 2015.5,1352.5" fill="none" stroke="#7d8592" stroke-width="6" stroke-linecap="round"/>
<path d="M2113,1301.5C2120.5,1301.5 2135.1,1302.8 2143,1307.5C2150.9,1312.2 2158,1322.1 2160.5,1330C2163,1337.9 2162.6,1349 2158,1355C2153.4,1361 2143,1363.9 2133,1366C2123,1368.1 2108,1368.9 2098,1367.5C2088,1366.1 2078.6,1361.7 2073,1357.5C2067.4,1353.3 2062.8,1348.8 2064.5,1342.5C2066.2,1336.2 2077.4,1325.8 2083,1320C2088.6,1314.2 2093,1310.6 2098,1307.5C2103,1304.4 2105.5,1301.5 2113,1301.5Z" fill="#abb0b8"/><path d="M2139.5,1320A20.3,20.3 0 0 1 2145.5,1340" fill="none" stroke="#7d8592" stroke-width="6" stroke-linecap="round"/><path d="M2152,1322.5A22,22 0 0 1 2150.5,1356" fill="none" stroke="#7d8592" stroke-width="6.5" stroke-linecap="round"/>
<path d="M2218,1318.5C2228.8,1318.1 2240.7,1321 2248,1325C2255.3,1329 2260.8,1336.7 2262,1342.5C2263.2,1348.3 2261.2,1356 2255.5,1360C2249.8,1364 2238.4,1365.7 2228,1366.5C2217.6,1367.3 2202.6,1366.9 2193,1365C2183.4,1363.1 2175.1,1358.8 2170.5,1355C2165.9,1351.2 2163.4,1347.1 2165.5,1342.5C2167.6,1337.9 2174.2,1331.5 2183,1327.5C2191.8,1323.5 2207.2,1318.9 2218,1318.5Z" fill="#abb0b8"/><path d="M2244,1339A4.4,4.4 0 0 1 2245.5,1346.5" fill="none" stroke="#7d8592" stroke-width="5" stroke-linecap="round"/><path d="M2257,1340A9.8,9.8 0 0 1 2250.5,1357.5" fill="none" stroke="#7d8592" stroke-width="6" stroke-linecap="round"/>
<path d="M2681,1290C2693.5,1290.4 2709.3,1294.2 2721,1300C2732.7,1305.8 2744.2,1316.7 2751,1325C2757.8,1333.3 2761.6,1341.2 2762,1350C2762.4,1358.8 2760.3,1370 2753.5,1377.5C2746.7,1385 2733.1,1390.8 2721,1395C2708.9,1399.2 2693.5,1402.5 2681,1402.5C2668.5,1402.5 2656,1399.6 2646,1395C2636,1390.4 2626.8,1382.9 2621,1375C2615.2,1367.1 2611.4,1356.7 2611,1347.5C2610.6,1338.3 2612.7,1328.3 2618.5,1320C2624.3,1311.7 2635.6,1302.5 2646,1297.5C2656.4,1292.5 2668.5,1289.6 2681,1290Z" fill="#abb0b8"/><path d="M2622,1337.5A47.1,47.1 0 0 1 2687,1298.5" fill="none" stroke="#7d8592" stroke-width="8" stroke-linecap="round"/><path d="M2651,1325A45.3,45.3 0 0 1 2685,1311.5" fill="none" stroke="#7d8592" stroke-width="7" stroke-linecap="round"/>
<path d="M3097.8,1300.1C3107.3,1300.1 3116.1,1302.4 3123.2,1307.1C3130.4,1311.7 3136.5,1319.5 3140.8,1327.7C3145,1336 3147.6,1346.3 3148.7,1356.4C3149.8,1366.5 3149.8,1378.1 3147.1,1388.2C3144.5,1398.3 3139.4,1408.4 3132.8,1416.9C3126.2,1425.4 3116.9,1433.6 3107.3,1439.2C3097.8,1444.7 3086.1,1449.2 3075.5,1450.3C3064.9,1451.4 3053.2,1449.5 3043.7,1445.5C3034.1,1441.5 3024.8,1433.9 3018.2,1426.4C3011.6,1419 3006.5,1409.4 3003.9,1401C3001.2,1392.5 3001,1384.5 3002.3,1375.5C3003.6,1366.5 3006.5,1355.3 3011.8,1346.8C3017.1,1338.4 3025.1,1331.2 3034.1,1324.6C3043.1,1317.9 3055.3,1311.1 3065.9,1307.1C3076.6,1303 3088.2,1300.1 3097.8,1300.1Z" fill="#abb0b8"/><path d="M3013.4,1372.3A67.7,67.7 0 0 0 3023,1421.7" fill="none" stroke="#7d8592" stroke-width="9.5" stroke-linecap="round"/><path d="M3029.3,1376.5A74.4,74.4 0 0 0 3072.3,1436.9" fill="none" stroke="#7d8592" stroke-width="8.9" stroke-linecap="round"/>
<path d="M3317.4,1327.1C3324.8,1327.6 3335.7,1330.3 3342.9,1334.1C3350,1337.9 3356.9,1344.7 3360.4,1350C3363.8,1355.3 3364.4,1360.6 3363.6,1365.9C3362.8,1371.3 3359.6,1377.4 3355.6,1381.9C3351.6,1386.4 3346.1,1390.6 3339.7,1393C3333.3,1395.4 3324.8,1396.7 3317.4,1396.2C3310,1395.7 3301.2,1393.3 3295.1,1389.8C3289,1386.4 3283.7,1380.5 3280.8,1375.5C3277.9,1370.5 3277.1,1365.2 3277.6,1359.6C3278.2,1354 3280.5,1346.8 3284,1342.1C3287.4,1337.3 3292.7,1333.4 3298.3,1330.9C3303.9,1328.4 3310,1326.6 3317.4,1327.1Z" fill="#abb0b8"/><path d="M3288.8,1346.2A32.1,32.1 0 0 1 3319,1334.1" fill="none" stroke="#7d8592" stroke-width="4.5" stroke-linecap="round"/><path d="M3307.9,1344.3A21.1,21.1 0 0 1 3329.5,1342.7" fill="none" stroke="#7d8592" stroke-width="3.8" stroke-linecap="round"/>
<path d="M3225.1,1358.3C3235.2,1359.1 3250,1361 3260.1,1365.9C3270.2,1370.9 3278.7,1380.3 3285.6,1388.2C3292.5,1396.2 3298.4,1405.2 3301.5,1413.7C3304.6,1422.2 3305.4,1430.7 3304,1439.2C3302.7,1447.6 3298.7,1457.2 3293.5,1464.6C3288.3,1472.1 3280.5,1478.4 3272.9,1483.7C3265.2,1489 3255.9,1493.8 3247.4,1496.5C3238.9,1499.1 3231.5,1500.4 3221.9,1499.6C3212.4,1498.8 3200.2,1496.5 3190.1,1491.7C3180,1486.9 3168.9,1478.7 3161.4,1471C3154,1463.3 3148.6,1453.5 3145.5,1445.5C3142.4,1437.6 3141.9,1431.7 3143,1423.2C3144,1414.8 3146.7,1403.1 3151.9,1394.6C3157.1,1386.1 3166.2,1377.9 3174.2,1372.3C3182.1,1366.7 3191.2,1363.5 3199.6,1361.2C3208.1,1358.8 3215,1357.5 3225.1,1358.3Z" fill="#abb0b8"/><path d="M3278.3,1413.1A40.9,40.9 0 0 1 3256.9,1464" fill="none" stroke="#7d8592" stroke-width="8.9" stroke-linecap="round"/><path d="M3282.4,1456A42.3,42.3 0 0 1 3261.7,1480.5" fill="none" stroke="#7d8592" stroke-width="8" stroke-linecap="round"/>
<path d="M3514.8,1396.2C3519.6,1397 3527.7,1399.1 3532.3,1402.6C3536.8,1406 3541.1,1411.8 3542.2,1416.9C3543.2,1421.9 3541.6,1428.7 3538.7,1432.8C3535.7,1436.9 3529.9,1440.4 3524.3,1441.7C3518.8,1443 3511.1,1442.5 3505.2,1440.8C3499.4,1439 3492.6,1435.2 3489.3,1431.2C3486,1427.2 3485,1421.4 3485.5,1416.9C3486,1412.4 3489.5,1407.3 3492.5,1404.1C3495.5,1401 3499.9,1399.1 3503.6,1397.8C3507.3,1396.5 3510,1395.4 3514.8,1396.2Z" fill="#abb0b8"/><path d="M3492.5,1408.9A28.1,28.1 0 0 1 3521.1,1401" fill="none" stroke="#7d8592" stroke-width="3.8" stroke-linecap="round"/><path d="M3505.9,1408A16,16 0 0 1 3519.6,1406.7" fill="none" stroke="#7d8592" stroke-width="2.5" stroke-linecap="round"/>
<path d="M3403.4,1373.9C3415,1374.4 3427.8,1376.8 3438.4,1381.9C3449,1386.9 3459.1,1395.7 3467,1404.1C3475,1412.6 3482.1,1423.2 3486.1,1432.8C3490.1,1442.3 3491.7,1451.9 3490.9,1461.4C3490.1,1471 3486.4,1481.3 3481.4,1490.1C3476.3,1498.8 3468.9,1507.6 3460.7,1514C3452.4,1520.3 3441.6,1525.5 3432,1528.3C3422.5,1531.1 3414,1531.9 3403.4,1530.8C3392.8,1529.8 3379.5,1526.6 3368.3,1521.9C3357.2,1517.3 3345,1510.3 3336.5,1502.8C3328,1495.4 3321.7,1485.8 3317.4,1477.4C3313.2,1468.9 3311.1,1460.9 3311.1,1451.9C3311.1,1442.9 3313.2,1432.3 3317.4,1423.2C3321.7,1414.2 3328,1405.2 3336.5,1397.8C3345,1390.4 3357.2,1382.7 3368.3,1378.7C3379.5,1374.7 3391.7,1373.4 3403.4,1373.9Z" fill="#abb0b8"/><path d="M3462.3,1435A41.6,41.6 0 0 1 3437.4,1491.7" fill="none" stroke="#7d8592" stroke-width="9.5" stroke-linecap="round"/><path d="M3467,1482.8A43.6,43.6 0 0 1 3443.8,1509.8" fill="none" stroke="#7d8592" stroke-width="8.6" stroke-linecap="round"/>
<path d="M3648.5,1519.7C3653.8,1520 3660.2,1523.4 3664.4,1526.7C3668.5,1530 3672.5,1535.2 3673.3,1539.4C3674.1,1543.7 3672.2,1549.1 3669.2,1552.2C3666.1,1555.2 3659.9,1557.4 3654.8,1557.9C3649.8,1558.4 3643.4,1557.4 3638.9,1555.3C3634.4,1553.3 3630,1549.2 3627.8,1545.8C3625.6,1542.3 3624.8,1538.1 3625.6,1534.7C3626.3,1531.2 3628.7,1527.6 3632.6,1525.1C3636.4,1522.6 3643.2,1519.4 3648.5,1519.7Z" fill="#abb0b8"/><path d="M3631.9,1530.8A20.9,20.9 0 0 1 3654.8,1524.5" fill="none" stroke="#7d8592" stroke-width="3.2" stroke-linecap="round"/><path d="M3642.7,1529.9A14.8,14.8 0 0 1 3653.2,1527.7" fill="none" stroke="#7d8592" stroke-width="1.9" stroke-linecap="round"/>
<path d="M3546.6,1441.7C3557.2,1441.4 3568.4,1443.3 3578.4,1447.1C3588.5,1450.9 3598.9,1458 3607.1,1464.6C3615.3,1471.3 3623.4,1479.5 3627.8,1486.9C3632.1,1494.3 3633.2,1501.8 3633.2,1509.2C3633.2,1516.6 3631.1,1525.1 3627.8,1531.5C3624.5,1537.8 3620.6,1543.6 3613.5,1547.4C3606.3,1551.2 3593.8,1552.8 3584.8,1554.4C3575.8,1556 3568.9,1557.6 3559.3,1556.9C3549.8,1556.3 3537.1,1554.8 3527.5,1550.6C3518,1546.3 3508.7,1538.4 3502,1531.5C3495.4,1524.6 3490.7,1516.1 3487.7,1509.2C3484.7,1502.3 3483.1,1497 3483.9,1490.1C3484.7,1483.2 3487.3,1474.7 3492.5,1467.8C3497.6,1460.9 3505.8,1453.1 3514.8,1448.7C3523.8,1444.4 3536,1442 3546.6,1441.7Z" fill="#abb0b8"/><path d="M3497.3,1477.4A57.8,57.8 0 0 1 3568.9,1455.1" fill="none" stroke="#7d8592" stroke-width="9.5" stroke-linecap="round"/><path d="M3529.1,1471.9A40.2,40.2 0 0 1 3565.1,1467.2" fill="none" stroke="#7d8592" stroke-width="8.3" stroke-linecap="round"/>
<path d="M3272.9,1494.9C3287.2,1494.9 3299.4,1497.8 3311.1,1502.8C3322.7,1507.9 3334.4,1517.1 3342.9,1525.1C3351.4,1533.1 3358,1542.1 3362,1550.6C3366,1559.1 3367.3,1567 3366.8,1576C3366.2,1585.1 3363.3,1595.1 3358.8,1604.7C3354.3,1614.2 3347.7,1624.6 3339.7,1633.3C3331.7,1642.1 3321.1,1650.8 3311.1,1657.2C3301,1663.6 3288.8,1668.6 3279.2,1671.5C3269.7,1674.5 3262.8,1675.5 3253.8,1674.7C3244.7,1673.9 3234.7,1671.5 3225.1,1666.8C3215.6,1662 3206,1654.3 3196.5,1646.1C3186.9,1637.8 3175.2,1626.4 3167.8,1617.4C3160.4,1608.4 3154.9,1599.4 3151.9,1592C3148.9,1584.5 3148.1,1580.3 3149.7,1572.9C3151.3,1565.4 3155.2,1555.9 3161.4,1547.4C3167.6,1538.9 3176.3,1529.4 3186.9,1521.9C3197.5,1514.5 3210.8,1507.3 3225.1,1502.8C3239.4,1498.3 3258.5,1494.9 3272.9,1494.9Z" fill="#abb0b8"/><path d="M3253.8,1636.5A43.8,43.8 0 0 0 3298.3,1616.8" fill="none" stroke="#7d8592" stroke-width="10.2" stroke-linecap="round"/><path d="M3226.7,1651.8A62.7,62.7 0 0 0 3316.5,1631.7" fill="none" stroke="#7d8592" stroke-width="10.2" stroke-linecap="round"/>
<path d="M3441.6,1533.7C3451.6,1534.2 3464.9,1536.6 3476.6,1541C3488.2,1545.4 3502,1552.2 3511.6,1560.1C3521.1,1568.1 3529.1,1579.8 3533.9,1588.8C3538.7,1597.8 3540.2,1605.7 3540.2,1614.2C3540.2,1622.7 3537.6,1631.7 3533.9,1639.7C3530.2,1647.7 3524.3,1655.1 3518,1662C3511.6,1668.9 3503.6,1676.6 3495.7,1681.1C3487.7,1685.6 3480.8,1688 3470.2,1689C3459.6,1690.1 3443.2,1689.8 3432,1687.4C3420.9,1685.1 3411.9,1680.6 3403.4,1674.7C3394.9,1668.9 3387.4,1660.9 3381.1,1652.4C3374.7,1643.9 3368.6,1632.8 3365.2,1623.8C3361.7,1614.8 3359.9,1606.8 3360.4,1598.3C3360.9,1589.8 3363.3,1580.8 3368.3,1572.9C3373.4,1564.9 3382.7,1556.4 3390.6,1550.6C3398.6,1544.7 3407.6,1540.7 3416.1,1537.8C3424.6,1535 3431.5,1533.2 3441.6,1533.7Z" fill="#abb0b8"/><path d="M3411.3,1552.2A62.7,62.7 0 0 0 3381.1,1579.2" fill="none" stroke="#7d8592" stroke-width="8.9" stroke-linecap="round"/><path d="M3416.1,1570.3A45.6,45.6 0 0 0 3388.1,1626.3" fill="none" stroke="#7d8592" stroke-width="8.9" stroke-linecap="round"/>
<path d="M3740.8,1599C3746.4,1598.7 3752.8,1601.9 3756.7,1604.7C3760.6,1607.5 3763.5,1611.8 3764,1615.8C3764.6,1619.8 3763.2,1625.1 3759.9,1628.6C3756.5,1632 3749.3,1634.8 3744,1636.5C3738.7,1638.3 3732.3,1640.1 3728.1,1639.1C3723.8,1638 3720.5,1633.8 3718.5,1630.2C3716.5,1626.5 3715.2,1621.4 3716,1617.4C3716.7,1613.4 3719.1,1609.4 3723.3,1606.3C3727.4,1603.2 3735.2,1599.2 3740.8,1599Z" fill="#abb0b8"/><path d="M3720.1,1617.4A19.4,19.4 0 0 1 3741.4,1603.1" fill="none" stroke="#7d8592" stroke-width="3.2" stroke-linecap="round"/><path d="M3729.6,1611.7A12.7,12.7 0 0 1 3740.1,1607.2" fill="none" stroke="#7d8592" stroke-width="2.5" stroke-linecap="round"/>
<path d="M3744,1639.7C3749.5,1639.8 3757.1,1642.9 3761.5,1646.1C3765.9,1649.3 3769.6,1654.3 3770.4,1658.8C3771.2,1663.3 3770.1,1669.5 3766.2,1673.1C3762.4,1676.7 3753,1679.4 3747.1,1680.4C3741.3,1681.5 3735.6,1681.5 3731.2,1679.5C3726.9,1677.5 3722.9,1672.3 3721,1668.3C3719.2,1664.4 3718.9,1659.4 3720.1,1655.6C3721.3,1651.8 3724.1,1648.1 3728.1,1645.4C3732,1642.8 3738.4,1639.6 3744,1639.7Z" fill="#abb0b8"/><path d="M3724.2,1655A29.3,29.3 0 0 1 3748.7,1642.9" fill="none" stroke="#7d8592" stroke-width="3.2" stroke-linecap="round"/><path d="M3735.1,1650.8A16,16 0 0 1 3747.1,1647" fill="none" stroke="#7d8592" stroke-width="2.5" stroke-linecap="round"/>
<path d="M3616.6,1554.4C3626.7,1553.9 3638.4,1555.5 3648.5,1558.5C3658.6,1561.6 3668.6,1566.8 3677.1,1572.9C3685.6,1579 3693,1586.6 3699.4,1595.1C3705.8,1603.6 3711.9,1614.8 3715.3,1623.8C3718.8,1632.8 3720.6,1641.8 3720.1,1649.3C3719.6,1656.7 3717.2,1662.8 3712.1,1668.3C3707.1,1673.9 3698.9,1678.7 3689.9,1682.7C3680.8,1686.7 3668.6,1690.4 3658,1692.2C3647.4,1694.1 3636.3,1694.6 3626.2,1693.8C3616.1,1693 3607.1,1691.7 3597.5,1687.4C3588,1683.2 3576.8,1675.2 3568.9,1668.3C3560.9,1661.5 3554.6,1653.5 3549.8,1646.1C3545,1638.6 3541,1631.2 3540.2,1623.8C3539.4,1616.4 3541.3,1608.9 3545,1601.5C3548.7,1594.1 3555.4,1585.9 3562.5,1579.2C3569.7,1572.6 3579,1565.9 3588,1561.7C3597,1557.6 3606.6,1554.9 3616.6,1554.4Z" fill="#abb0b8"/><path d="M3610.3,1571.3A58.7,58.7 0 0 0 3552.3,1620" fill="none" stroke="#7d8592" stroke-width="8.9" stroke-linecap="round"/><path d="M3591.2,1596.7A238.7,238.7 0 0 0 3567.9,1618.4" fill="none" stroke="#7d8592" stroke-width="8.9" stroke-linecap="round"/>
</g>
<g fill="none" stroke="#000" stroke-linecap="round" stroke-linejoin="round">
<path d="M510,1045L516.9,1044.8L525.9,1044.6L536.7,1044.4L548.8,1044.1L561.6,1043.8L574.7,1043.5L587.7,1043.3L600,1043L612,1042.7L624.3,1042.4L636.8,1042L649.4,1041.6L662.1,1041.3L674.8,1041.1L687.4,1041L700,1041L712.5,1041.1L725,1041.3L737.5,1041.6L750,1042L762.5,1042.5L775,1043.2L787.5,1044L800,1045L812.7,1046.2L825.6,1047.6L838.6,1049.1L851.6,1050.8L864.3,1052.6L876.8,1054.6L888.7,1056.7L900,1059L910.8,1061.5L921.4,1064.3L931.7,1067.2L941.6,1070.3L950.9,1073.5L959.6,1076.6L967.7,1079.6L975,1082.5L981.3,1085.2L986.7,1087.7L991.2,1090.1L995.2,1092.5L998.9,1095L1002.5,1097.5L1006.1,1100.1L1010,1103L1014.2,1106L1018.4,1109.1L1022.5,1112.3L1026.6,1115.6L1030.6,1119L1034.3,1122.5L1037.8,1126.2L1041,1130L1043.8,1134L1046.4,1138.1L1048.7,1142.3L1050.8,1146.7L1052.7,1151.2L1054.5,1155.7L1056.3,1160.3L1058,1165L1059.7,1169.7L1061.2,1174.5L1062.7,1179.4L1064,1184.4L1065.3,1189.4L1066.5,1194.5L1067.8,1199.7L1069,1205L1070.2,1210.4L1071.3,1215.8L1072.4,1221.4L1073.4,1227L1074.5,1232.7L1075.6,1238.4L1076.7,1244.2L1078,1250L1079.3,1255.9L1080.6,1262L1081.9,1268.2L1083.3,1274.4L1084.8,1280.5L1086.4,1286.6L1088.1,1292.4L1090,1298L1092,1303.4L1094.2,1308.7L1096.5,1313.8L1098.9,1318.8L1101.4,1323.6L1104.1,1328.3L1107,1332.8L1110,1337L1113.2,1341L1116.5,1344.6L1120,1348L1123.7,1351.3L1127.5,1354.5L1131.5,1357.6L1135.7,1360.8L1140,1364L1144.3,1367.2L1148.5,1370.3L1152.7,1373.3L1157.2,1376.4L1162.1,1379.5L1167.5,1382.8L1173.8,1386.2L1181,1390L1189.4,1394.2L1198.8,1398.8L1209,1403.7L1219.9,1408.7L1231,1413.7L1242.3,1418.5L1253.3,1423L1264,1427L1274.3,1430.6L1284.6,1433.8L1294.8,1436.8L1305,1439.6L1315.3,1442.2L1325.7,1444.8L1336.2,1447.4L1347,1450L1357.6,1452.6L1367.8,1455L1377.9,1457.4L1388.3,1459.7L1399.2,1462.1L1410.9,1464.5L1423.7,1467.2L1438,1470L1453.9,1473.1L1471.4,1476.5L1489.9,1480L1509.3,1483.6" stroke-width="3.2"/>
<path d="M1509.3,1483.6L1529.2,1487.2L1549.1,1490.8L1568.8,1494.3L1588,1497.5L1606.6,1500.6L1625,1503.6L1643.4,1506.5L1661.8,1509.3L1680.3,1512L1699.1,1514.7L1718.3,1517.4L1738,1520L1759.1,1522.6L1781.8,1525.4L1805.3,1528.1L1828.9,1530.7L1851.8,1533.2L1873.1,1535.4L1892.1,1537.4L1908,1539L1919.6,1540.1L1927,1540.8L1931.8,1541.1L1935.2,1541.2L1938.6,1541.3L1943.5,1541.4L1951.2,1541.8L1963,1542.5L1979.3,1543.6L1998.9,1544.8L2020.9,1546.2L2044.6,1547.8L2068.9,1549.4L2093.2,1551L2116.5,1552.5L2138,1554L2157.9,1555.4L2177.3,1556.7L2196.1,1558L2214.6,1559.3L2232.8,1560.6L2251.1,1562L2269.4,1563.4L2288,1565L2306.8,1566.7L2325.8,1568.4L2344.8,1570.2L2363.8,1572.1L2382.6,1574L2401.3,1576L2419.8,1578L2438,1580L2455.3,1582L2471.5,1583.9L2487.2,1585.8L2502.9,1587.7L2519.1,1589.8L2536.4,1592.1L2555.1,1594.6L2576,1597.5L2600.3,1600.9L2628.2,1605L2658.2,1609.4L2689,1614L2719.1,1618.4L2747,1622.6L2771.5,1626.2L2791,1629L2804.6,1630.9L2813.1,1632L2818.1,1632.5L2821,1632.7L2823.3,1632.8L2826.4,1633.1L2831.8,1633.8L2841,1635L2853.6,1636.8L2868,1639L2884,1641.5L2901.2,1644.2L2919.3,1647L2938,1649.7L2957,1652.5L2976,1655L2996,1657.5L3017.6,1660.1L3040.2,1662.8L3063,1665.4L3085.5,1667.9L3106.8,1670.2L3126.4,1672.3L3143.5,1674L3157.8,1675.4L3169.7,1676.4L3179.9,1677.2L3189,1677.8L3197.5,1678.3L3206.1,1678.8L3215.4,1679.3L3226,1680L3237.7,1680.8L3249.8,1681.6L3262.2,1682.4L3274.9,1683.2L3287.7,1684L3300.6,1684.7L3313.4,1685.4L3326,1686L3338.2,1686.5L3349.8,1687.1L3361.3,1687.5L3372.9,1687.9L3384.8,1688.3L3397.5,1688.6L3411.1,1688.8L3426,1689L3442.3,1689.1L3459.7,1689.1L3478,1689.1L3497,1689L3516.5,1688.8L3536.3,1688.6L3556.2,1688.3L3576,1688L3597,1687.5L3619.9,1686.9L3643.7,1686.2L3667.4,1685.4L3689.9,1684.7L3710.2,1684L3727.3,1683.4L3740,1683" stroke-width="2.8"/>
<path d="M1041,1130 L1258.3,1076" stroke-width="3.2"/>
<path d="M1258.3,1076C1261.9,1083.8 1272.1,1106.2 1280,1123C1287.9,1139.8 1294.9,1158 1305.5,1177C1316.1,1196 1330.2,1220.7 1343.8,1237C1357.4,1253.3 1375.5,1265.7 1387,1275C1398.5,1284.3 1396.2,1284.7 1413,1293C1429.8,1301.3 1458.8,1316.3 1488,1325C1517.2,1333.7 1554.7,1340 1588,1345C1621.3,1350 1654.7,1352.7 1688,1355C1721.3,1357.3 1752.2,1358 1788,1359C1823.8,1360 1874.2,1360.2 1903,1361C1931.8,1361.8 1921.3,1362.1 1960.5,1364C1999.7,1365.9 2083.4,1369.7 2138,1372.5C2192.6,1375.3 2238,1377.7 2288,1381C2338,1384.3 2390,1388.3 2438,1392.5C2486,1396.7 2515.5,1399.8 2576,1406C2636.5,1412.2 2753.9,1425 2801,1430C2848.1,1435 2829.3,1432.7 2858.5,1436C2887.7,1439.3 2929.8,1443.8 2976,1450C3022.2,1456.2 3109.3,1469.6 3136,1473.5" stroke-width="2.7"/>
<path d="M3136,1473.5 Q3141,1575 3143.5,1674" stroke-width="2.8"/>
</g>
<path d="M1906,1358.7L1958,1362L1961.5,1450L1962,1540L1961.5,1757.5L1958,1757.5L1958,1790L1954,1870L1948,1925L1943.5,2025L1940,2031L1933,2031L1929.5,2025L1925.5,1875L1923,1753.5L1915.5,1752.5L1909.5,1540L1908,1450 Z" fill="#3b2220" stroke="#000" stroke-width="3.2" stroke-linejoin="round"/>
<path d="M1896.6,1232.4 Q1928,1232.5 1956.6,1237.3 L1960.8,1324 L1961.5,1351.8 L1958,1362 L1906,1358.7 L1902,1349 L1899.4,1296.6 Z" fill="#633a37" stroke="#000" stroke-width="3.2" stroke-linejoin="round"/>
<path d="M1909.5,1539 Q1935,1545 1962,1541.5" fill="none" stroke="#000" stroke-width="3.5"/>
<path d="M2803.5,1430L2857,1437.5L2850,1540L2841,1635L2836,1720L2824.5,1806L2820,1807.5L2811,1900L2796,2000L2785,2070L2782,2077L2778,2077L2776,2070L2775,2000L2778.5,1925L2782,1850L2783.5,1800L2792,1629L2797,1540 Z" fill="#3b2220" stroke="#000" stroke-width="3.2" stroke-linejoin="round"/>
<path d="M2803,1431 L2857,1438.5 L2856,1451 L2802.3,1443.5Z" fill="#4d2b2a"/>
<path d="M2809.5,1279 Q2840,1280.5 2866,1289 L2861,1380 L2857,1437.5 L2803.5,1430 L2806,1360 Z" fill="#633a37" stroke="#000" stroke-width="3.2" stroke-linejoin="round"/>
<path d="M2792,1629 L2840,1635" fill="none" stroke="#000" stroke-width="3.5"/>
<path d="M711,1346 C749,1322 764,1268 751,1172" fill="none" stroke="#000" stroke-width="9"/><path d="M730,1175L772.5,1169L739,1092.5 Z" fill="#000"/>
<path d="M1304,660 C1257,681 1239.5,725 1240,830" fill="none" stroke="#000" stroke-width="9"/><path d="M1218,827L1261.5,827L1241,908 Z" fill="#000"/>
<path d="M2197.5,627.5 C2049,658 2003,813 1957,1133" fill="none" stroke="#000" stroke-width="9"/><path d="M1933.5,1127.5L1976.5,1134L1946,1209 Z" fill="#000"/>
<path d="M3417,802.5 C3325,802 3287,955 3288,1222" fill="none" stroke="#000" stroke-width="9"/><path d="M3267,1220L3310.5,1220L3289,1300 Z" fill="#000"/>
<path d="M2395.5,1802.5 C2405,1720 2407,1640 2407,1553" fill="none" stroke="#000" stroke-width="7.6"/><path d="M2385,1555L2429,1555L2407,1475 Z" fill="#000"/>
<g clip-path="url(#matclip)"><path d="M2395.5,1802.5 C2405,1720 2407,1640 2407,1553" fill="none" stroke="#281717" stroke-width="7.6"/><path d="M2385,1555L2429,1555L2407,1475 Z" fill="#281717"/></g>
<line x1="1338" y1="1145" x2="3888" y2="1147.3" stroke="#34596f" stroke-width="8" stroke-dasharray="50 50"/><line x1="1546" y1="1331.3" x2="3904" y2="1333.8" stroke="#34596f" stroke-width="8"/><line x1="3154" y1="1579" x2="3904" y2="1579" stroke="#34596f" stroke-width="8" stroke-dasharray="50 50"/>
<path d="M3852.7,1112.4Q3850.2,1109.2 3854.2,1109.2L3896.6,1109.2Q3900.6,1109.2 3898.1,1112.4L3877.9,1138.5Q3875.4,1141.7 3872.9,1138.5Z" fill="#fff" stroke="#000" stroke-width="4.6" stroke-linejoin="round"/>
<path d="M3869.4,1302.8Q3866.8,1299.8 3870.8,1299.8L3913.2,1299.8Q3917.2,1299.8 3914.6,1302.8L3894.6,1325.6Q3892,1328.6 3889.4,1325.6Z" fill="#fff" stroke="#000" stroke-width="4.6" stroke-linejoin="round"/>
<path d="M3869.4,1548.1Q3866.8,1545 3870.8,1545L3913.2,1545Q3917.2,1545 3914.6,1548.1L3894.6,1571.6Q3892,1574.7 3889.4,1571.6Z" fill="#fff" stroke="#000" stroke-width="4.6" stroke-linejoin="round"/>
<g fill="#000"><circle cx="329" cy="1106" r="3.3"/><circle cx="482" cy="1131" r="3.3"/><circle cx="557" cy="1151" r="3.3"/><circle cx="711" cy="1131" r="3.3"/><circle cx="800" cy="1098" r="3.3"/><circle cx="878" cy="1149" r="3.3"/><circle cx="216" cy="1189" r="3.3"/><circle cx="649" cy="1177" r="3.3"/><circle cx="1007" cy="1205" r="3.3"/><circle cx="385" cy="1244" r="3.3"/><circle cx="631" cy="1255" r="3.3"/><circle cx="843" cy="1246" r="3.3"/><circle cx="964" cy="1259" r="3.3"/><circle cx="521" cy="1294" r="3.3"/><circle cx="297" cy="1309" r="3.3"/><circle cx="741" cy="1296" r="3.3"/><circle cx="1000" cy="1317" r="3.3"/><circle cx="198" cy="1360" r="3.3"/><circle cx="895" cy="1371" r="3.3"/><circle cx="652" cy="1386" r="3.3"/><circle cx="355" cy="1398" r="3.3"/><circle cx="544" cy="1399" r="3.3"/><circle cx="482" cy="1410" r="3.3"/><circle cx="768" cy="1408" r="3.3"/><circle cx="843" cy="1433" r="3.3"/><circle cx="1071" cy="1429" r="3.3"/><circle cx="349" cy="1459" r="3.3"/><circle cx="78" cy="1499" r="3.3"/><circle cx="209" cy="1526" r="3.3"/><circle cx="424" cy="1552" r="3.3"/><circle cx="562" cy="1535" r="3.3"/><circle cx="648" cy="1548" r="3.3"/><circle cx="832" cy="1513" r="3.3"/><circle cx="1000" cy="1503" r="3.3"/><circle cx="1152" cy="1503" r="3.3"/><circle cx="1286" cy="1513" r="3.3"/><circle cx="768" cy="1567" r="3.3"/><circle cx="248" cy="1612" r="3.3"/><circle cx="915" cy="1610" r="3.3"/><circle cx="1140" cy="1601" r="3.3"/><circle cx="392" cy="1661" r="3.3"/><circle cx="547" cy="1674" r="3.3"/><circle cx="650" cy="1663" r="3.3"/><circle cx="800" cy="1670" r="3.3"/><circle cx="1015" cy="1659" r="3.3"/><circle cx="1106" cy="1683" r="3.3"/><circle cx="185" cy="1722" r="3.3"/><circle cx="745" cy="1716" r="3.3"/><circle cx="931" cy="1730" r="3.3"/><circle cx="1179" cy="1741" r="3.3"/><circle cx="286" cy="1758" r="3.3"/><circle cx="624" cy="1763" r="3.3"/><circle cx="457" cy="1785" r="3.3"/><circle cx="1007" cy="1779" r="3.3"/><circle cx="1096" cy="1833" r="3.3"/><circle cx="882" cy="1848" r="3.3"/><circle cx="1190" cy="1889" r="3.3"/><circle cx="543" cy="1899" r="3.3"/><circle cx="1022" cy="1911" r="3.3"/><circle cx="811" cy="1925" r="3.3"/><circle cx="243" cy="1928" r="3.3"/><circle cx="443" cy="1956" r="3.3"/><circle cx="1108" cy="2025" r="3.3"/><circle cx="882" cy="2044" r="3.3"/><circle cx="1450" cy="1540" r="3.3"/><circle cx="1332" cy="1623" r="3.3"/><circle cx="1766" cy="1591" r="3.3"/><circle cx="1657" cy="1634" r="3.3"/><circle cx="1527" cy="1661" r="3.3"/><circle cx="1826" cy="1681" r="3.3"/><circle cx="2020" cy="1611" r="3.3"/><circle cx="2020" cy="1687" r="3.3"/><circle cx="2146" cy="1688" r="3.3"/><circle cx="2301" cy="1626" r="3.3"/><circle cx="2453" cy="1679" r="3.3"/><circle cx="1633" cy="1728" r="3.3"/><circle cx="2220" cy="1750" r="3.3"/><circle cx="2290" cy="1750" r="3.3"/><circle cx="2377" cy="1758" r="3.3"/><circle cx="2526" cy="1752" r="3.3"/><circle cx="1450" cy="1790" r="3.3"/><circle cx="1796" cy="1818" r="3.3"/><circle cx="2104" cy="1799" r="3.3"/><circle cx="2479" cy="1821" r="3.3"/><circle cx="1310" cy="1842" r="3.3"/><circle cx="1562" cy="1855" r="3.3"/><circle cx="1672" cy="1853" r="3.3"/><circle cx="1992" cy="1889" r="3.3"/><circle cx="2095" cy="1900" r="3.3"/><circle cx="1427" cy="1912" r="3.3"/><circle cx="1861" cy="1917" r="3.3"/><circle cx="1541" cy="1993" r="3.3"/><circle cx="1762" cy="2006" r="3.3"/><circle cx="1377" cy="2051" r="3.3"/><circle cx="2212" cy="2049" r="3.3"/><circle cx="2375" cy="2051" r="3.3"/><circle cx="2500" cy="2027" r="3.3"/><circle cx="1951" cy="2075" r="3.3"/><circle cx="2658" cy="1679" r="3.3"/><circle cx="2943" cy="1706" r="3.3"/><circle cx="3082" cy="1737" r="3.3"/><circle cx="3203" cy="1745" r="3.3"/><circle cx="3317" cy="1750" r="3.3"/><circle cx="3448" cy="1759" r="3.3"/><circle cx="3596" cy="1752" r="3.3"/><circle cx="2612" cy="1793" r="3.3"/><circle cx="2751" cy="1795" r="3.3"/><circle cx="2863" cy="1786" r="3.3"/><circle cx="2995" cy="1825" r="3.3"/><circle cx="3448" cy="1816" r="3.3"/><circle cx="2887" cy="1853" r="3.3"/><circle cx="3104" cy="1844" r="3.3"/><circle cx="3272" cy="1855" r="3.3"/><circle cx="3513" cy="1855" r="3.3"/><circle cx="3720" cy="1855" r="3.3"/><circle cx="2694" cy="1875" r="3.3"/><circle cx="3195" cy="1872" r="3.3"/><circle cx="3398" cy="1867" r="3.3"/><circle cx="3625" cy="1878" r="3.3"/><circle cx="3068" cy="1915" r="3.3"/><circle cx="3173" cy="1917" r="3.3"/><circle cx="3418" cy="1919" r="3.3"/><circle cx="3330" cy="1934" r="3.3"/><circle cx="3540" cy="1928" r="3.3"/><circle cx="3716" cy="1934" r="3.3"/><circle cx="2760" cy="1928" r="3.3"/><circle cx="2924" cy="1954" r="3.3"/><circle cx="3264" cy="1982" r="3.3"/><circle cx="2762" cy="1988" r="3.3"/><circle cx="2883" cy="1990" r="3.3"/><circle cx="3091" cy="1990" r="3.3"/><circle cx="3540" cy="2021" r="3.3"/><circle cx="3371" cy="2036" r="3.3"/><circle cx="3644" cy="2036" r="3.3"/><circle cx="2646" cy="2027" r="3.3"/><circle cx="3031" cy="2036" r="3.3"/><circle cx="3265" cy="2070" r="3.3"/></g>
<path d="M487.5,1187.5C492.2,1182.8 499.2,1182.8 505,1181.5C510.8,1180.2 517.3,1178.8 522.5,1180C527.7,1181.2 532.9,1184.8 536,1189C539.1,1193.2 541,1199.2 541,1205C541,1210.8 539.5,1219.4 536,1224C532.5,1228.6 526,1230.8 520,1232.5C514,1234.2 506,1234.6 500,1234C494,1233.4 487.9,1233 484,1229C480.1,1225 475.9,1216.9 476.5,1210C477.1,1203.1 482.8,1192.2 487.5,1187.5Z" fill="#fff" stroke="#000" stroke-width="4"/>
<path d="M260,1390C262.8,1388.6 269,1386.7 272.5,1387.5C276,1388.3 279.9,1391.9 281,1395C282.1,1398.1 281.2,1403.3 279,1406C276.8,1408.7 271.2,1411 267.5,1411C263.8,1411 258.9,1408.5 257,1406C255.1,1403.5 255.5,1398.7 256,1396C256.5,1393.3 257.2,1391.4 260,1390Z" fill="#fff" stroke="#000" stroke-width="4"/>
<path d="M132.5,1575C136.5,1572.5 143.9,1572.1 150,1572.5C156.1,1572.9 165.5,1574.6 169,1577.5C172.5,1580.4 172.1,1585.8 171,1590C169.9,1594.2 167.2,1599.8 162.5,1602.5C157.8,1605.2 148.2,1606.9 142.5,1606.5C136.8,1606.1 131.2,1603.2 128.5,1600C125.8,1596.8 125.3,1591.7 126,1587.5C126.7,1583.3 128.5,1577.5 132.5,1575Z" fill="#fff" stroke="#000" stroke-width="4"/>
<path d="M1210,1650C1214.8,1646.1 1222.5,1646.2 1230,1646.5C1237.5,1646.8 1249.6,1648 1255,1651.5C1260.4,1655 1262.5,1661.8 1262.5,1667.5C1262.5,1673.2 1261.2,1681.6 1255,1686C1248.8,1690.4 1233.3,1693.8 1225,1694C1216.7,1694.2 1209,1691.5 1205,1687.5C1201,1683.5 1200.2,1676.2 1201,1670C1201.8,1663.8 1205.2,1653.9 1210,1650Z" fill="#fff" stroke="#000" stroke-width="4"/>
<path d="M737.5,1812.5C740.4,1809 743.3,1808.4 747.5,1809C751.7,1809.6 759.3,1812.1 762.5,1816C765.7,1819.9 766.9,1826.2 766.5,1832.5C766.1,1838.8 763.2,1849.8 760,1854C756.8,1858.2 751.8,1858.2 747.5,1857.5C743.2,1856.8 736.9,1854.6 734,1850C731.1,1845.4 729.4,1836.2 730,1830C730.6,1823.8 734.6,1816 737.5,1812.5Z" fill="#fff" stroke="#000" stroke-width="4"/>
<path d="M510,2003.5C515.4,2002.7 521.2,2006 525,2010C528.8,2014 533,2021.7 533,2027.5C533,2033.3 529.5,2039.8 525,2045C520.5,2050.2 511.4,2057.2 506,2058.5C500.6,2059.8 496.2,2056.4 492.5,2052.5C488.8,2048.6 484,2041.2 484,2035C484,2028.8 488.2,2020.2 492.5,2015C496.8,2009.8 504.6,2004.3 510,2003.5Z" fill="#fff" stroke="#000" stroke-width="4"/>
<path d="M1303,1936C1307,1933.7 1313.2,1933.7 1318,1936C1322.8,1938.3 1329.9,1944.8 1332,1950C1334.1,1955.2 1332,1962.1 1330.5,1967.5C1329,1972.9 1327.2,1980 1323,1982.5C1318.8,1985 1310.1,1984.6 1305.5,1982.5C1300.9,1980.4 1297.4,1975.4 1295.5,1970C1293.6,1964.6 1292.8,1955.7 1294,1950C1295.2,1944.3 1299,1938.3 1303,1936Z" fill="#fff" stroke="#000" stroke-width="4"/>
<path d="M1725.5,1757.8C1725.6,1760.2 1724.2,1763.2 1722.1,1765.1C1720,1766.9 1716.2,1768.6 1712.9,1768.9C1709.6,1769.3 1704.8,1768.8 1702.3,1767.4C1699.8,1765.9 1697.8,1762.7 1697.7,1760.2C1697.6,1757.8 1699.5,1754.7 1701.7,1752.8C1703.9,1751 1707.8,1749.6 1711.1,1749.3C1714.5,1748.9 1719.3,1749.2 1721.6,1750.6C1724,1752.1 1725.4,1755.4 1725.5,1757.8Z" fill="#fff" stroke="#000" stroke-width="4"/>
<path d="M2465.2,1757.7C2465.5,1760.2 2463.5,1763.6 2461.1,1765.7C2458.8,1767.7 2454.3,1769.8 2451,1770C2447.6,1770.2 2443.5,1768.4 2441,1766.8C2438.5,1765.2 2436.3,1762.5 2436.1,1760.2C2435.9,1757.9 2437.6,1754.9 2439.7,1752.9C2441.9,1750.8 2445.7,1748.5 2449,1748.1C2452.4,1747.7 2457,1749 2459.7,1750.6C2462.4,1752.2 2465,1755.2 2465.2,1757.7Z" fill="#fff" stroke="#000" stroke-width="4"/>
<path d="M3707,1746C3707.2,1748.9 3706.6,1753.1 3704.5,1755.3C3702.3,1757.5 3697.4,1759.3 3694,1759.2C3690.6,1759.1 3686.6,1756.9 3684.2,1754.7C3681.8,1752.5 3679.5,1748.9 3679.5,1746C3679.6,1743.1 3682,1739.3 3684.4,1737.4C3686.8,1735.5 3690.9,1734.3 3694,1734.4C3697.1,1734.5 3701,1735.9 3703.2,1737.8C3705.3,1739.7 3706.7,1743.1 3707,1746Z" fill="#fff" stroke="#000" stroke-width="4"/>
<path d="M2998.6,1887C2998.7,1889.8 2996.1,1893.5 2993.7,1895.6C2991.2,1897.7 2987.2,1899.5 2984,1899.5C2980.8,1899.6 2976.7,1897.8 2974.3,1895.7C2971.9,1893.6 2969.6,1889.8 2969.7,1887C2969.7,1884.2 2972.3,1880.6 2974.7,1878.7C2977.1,1876.7 2980.9,1875.4 2984,1875.4C2987.1,1875.4 2990.8,1876.9 2993.2,1878.8C2995.6,1880.7 2998.5,1884.2 2998.6,1887Z" fill="#fff" stroke="#000" stroke-width="4"/>
<path d="M2608.7,1891.1C2607.7,1893.4 2605.5,1895.9 2603.7,1897C2601.8,1898 2599.3,1898.1 2597.7,1897.3C2596,1896.6 2594.4,1894.7 2593.9,1892.6C2593.5,1890.4 2593.8,1887 2594.9,1884.7C2595.9,1882.3 2598.3,1879.6 2600.2,1878.5C2602.2,1877.4 2605.1,1877 2606.7,1877.9C2608.3,1878.7 2609.6,1881.3 2609.9,1883.5C2610.3,1885.7 2609.8,1888.9 2608.7,1891.1Z" fill="#fff" stroke="#000" stroke-width="4"/>
<path d="M3457.8,1998C3457.8,2000.9 3455.1,2004.3 3452.6,2006.6C3450.1,2008.8 3446.2,2011.4 3443,2011.4C3439.8,2011.4 3435.6,2008.9 3433.2,2006.7C3430.9,2004.5 3428.9,2000.9 3429,1998C3429,1995.1 3431.2,1991.5 3433.5,1989.5C3435.8,1987.6 3439.8,1986.3 3443,1986.2C3446.2,1986.2 3450.2,1987.4 3452.6,1989.4C3455.1,1991.4 3457.8,1995.1 3457.8,1998Z" fill="#fff" stroke="#000" stroke-width="4"/>
<text transform="translate(1343,669) scale(1.0848,1)" font-size="70.5" id="t0">Natursten</text>
<text transform="translate(2239.4,650.5) scale(1.0345,1)" font-size="70.5" id="t1">Träpåle</text>
<text transform="translate(3469.1,814) scale(1.0780,1)" font-size="70.5" id="t2">Natursten</text>
<text transform="translate(3789.8,1086) scale(0.9530,1)" font-size="70.5" id="t3">MHW</text>
<text transform="translate(3829.3,1280) scale(0.9497,1)" font-size="70.5" id="t4">MW</text>
<text transform="translate(3812.2,1526.7) scale(0.9673,1)" font-size="70.5" id="t5">MLW</text>
<text transform="translate(582.5,1467.5) scale(0.9866,1)" font-size="70.5" id="t6">Vass</text>
<text transform="translate(2153.6,1907) scale(1.0617,1)" font-size="70.5" id="t7">Förplanterad</text>
<text transform="translate(2154.8,1987) scale(1.0865,1)" font-size="70.5" id="t8">strandmatta</text>
</svg></body></html>
